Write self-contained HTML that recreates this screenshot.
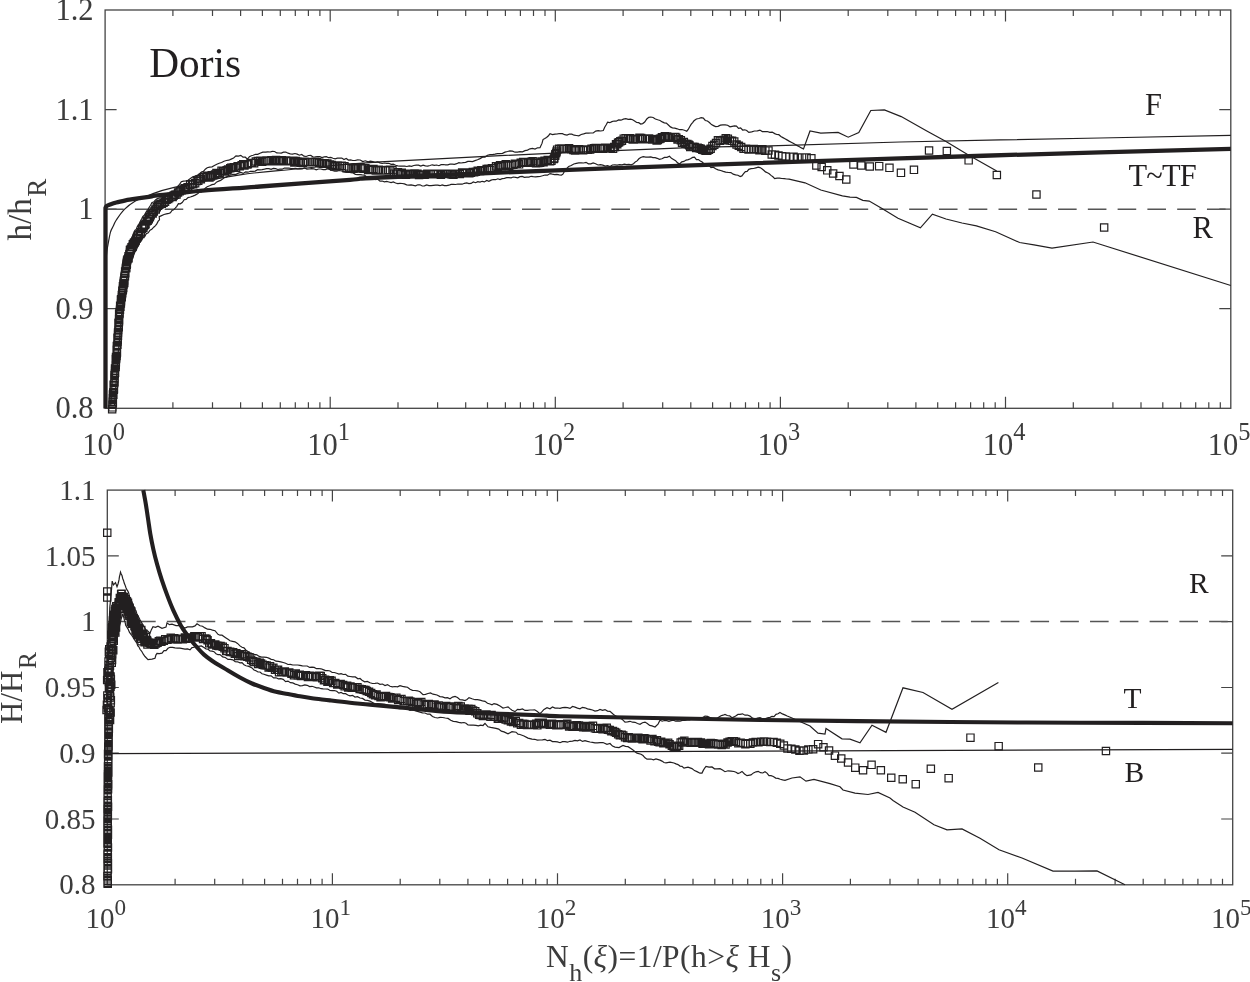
<!DOCTYPE html>
<html><head><meta charset="utf-8"><style>html,body{margin:0;padding:0;background:#fff;overflow:hidden;}svg{display:block;will-change:transform;}</style></head><body>
<svg width="1250" height="982" viewBox="0 0 1250 982" font-family="&quot;Liberation Serif&quot;, serif">
<rect width="1250" height="982" fill="#fff"/>
<rect x="105.1" y="10.0" width="1125.7" height="398.3" fill="none" stroke="#444" stroke-width="1.3"/>
<path d="M172.9 408.3v-6M172.9 10.0v6M212.5 408.3v-6M212.5 10.0v6M240.6 408.3v-6M240.6 10.0v6M262.4 408.3v-6M262.4 10.0v6M280.3 408.3v-6M280.3 10.0v6M295.3 408.3v-6M295.3 10.0v6M308.4 408.3v-6M308.4 10.0v6M319.9 408.3v-6M319.9 10.0v6M330.2 408.3v-11.5M330.2 10.0v11.5M398.0 408.3v-6M398.0 10.0v6M437.6 408.3v-6M437.6 10.0v6M465.7 408.3v-6M465.7 10.0v6M487.5 408.3v-6M487.5 10.0v6M505.4 408.3v-6M505.4 10.0v6M520.4 408.3v-6M520.4 10.0v6M533.5 408.3v-6M533.5 10.0v6M545.0 408.3v-6M545.0 10.0v6M555.3 408.3v-11.5M555.3 10.0v11.5M623.1 408.3v-6M623.1 10.0v6M662.7 408.3v-6M662.7 10.0v6M690.8 408.3v-6M690.8 10.0v6M712.6 408.3v-6M712.6 10.0v6M730.5 408.3v-6M730.5 10.0v6M745.5 408.3v-6M745.5 10.0v6M758.6 408.3v-6M758.6 10.0v6M770.1 408.3v-6M770.1 10.0v6M780.4 408.3v-11.5M780.4 10.0v11.5M848.2 408.3v-6M848.2 10.0v6M887.8 408.3v-6M887.8 10.0v6M915.9 408.3v-6M915.9 10.0v6M937.7 408.3v-6M937.7 10.0v6M955.6 408.3v-6M955.6 10.0v6M970.6 408.3v-6M970.6 10.0v6M983.7 408.3v-6M983.7 10.0v6M995.2 408.3v-6M995.2 10.0v6M1005.5 408.3v-11.5M1005.5 10.0v11.5M1073.3 408.3v-6M1073.3 10.0v6M1112.9 408.3v-6M1112.9 10.0v6M1141.0 408.3v-6M1141.0 10.0v6M1162.8 408.3v-6M1162.8 10.0v6M1180.7 408.3v-6M1180.7 10.0v6M1195.7 408.3v-6M1195.7 10.0v6M1208.8 408.3v-6M1208.8 10.0v6M1220.3 408.3v-6M1220.3 10.0v6M105.1 308.7h11.5M1230.8 308.7h-11.5M105.1 209.2h11.5M1230.8 209.2h-11.5M105.1 109.6h11.5M1230.8 109.6h-11.5" stroke="#444" stroke-width="1.2" fill="none"/>
<text x="93.6" y="418.4" text-anchor="end" font-size="30.5" fill="#3c3c3c">0.8</text>
<text x="93.6" y="318.8" text-anchor="end" font-size="30.5" fill="#3c3c3c">0.9</text>
<text x="93.6" y="219.2" text-anchor="end" font-size="30.5" fill="#3c3c3c">1</text>
<text x="93.6" y="119.6" text-anchor="end" font-size="30.5" fill="#3c3c3c">1.1</text>
<text x="93.6" y="20.1" text-anchor="end" font-size="30.5" fill="#3c3c3c">1.2</text>
<text x="103.6" y="454.8" font-size="30.5" fill="#3c3c3c" text-anchor="middle">10<tspan font-size="24.4" dy="-14.8">0</tspan></text>
<text x="328.7" y="454.8" font-size="30.5" fill="#3c3c3c" text-anchor="middle">10<tspan font-size="24.4" dy="-14.8">1</tspan></text>
<text x="553.8" y="454.8" font-size="30.5" fill="#3c3c3c" text-anchor="middle">10<tspan font-size="24.4" dy="-14.8">2</tspan></text>
<text x="778.9" y="454.8" font-size="30.5" fill="#3c3c3c" text-anchor="middle">10<tspan font-size="24.4" dy="-14.8">3</tspan></text>
<text x="1004.0" y="454.8" font-size="30.5" fill="#3c3c3c" text-anchor="middle">10<tspan font-size="24.4" dy="-14.8">4</tspan></text>
<text x="1229.1" y="454.8" font-size="30.5" fill="#3c3c3c" text-anchor="middle">10<tspan font-size="24.4" dy="-14.8">5</tspan></text>
<path d="M105.1 209.2H1230.8" stroke="#555" stroke-width="1.5" stroke-dasharray="18.6 11.18" fill="none"/>
<path d="M110.8 405 L110.9 402.3 L111.1 399.8 L111.2 398.3 L111.3 396.6 L111.4 393.9 L111.6 391.8 L111.7 388.8 L111.8 387.4 L112 385.9 L112.1 383.6 L112.2 381.2 L112.3 378 L112.5 377 L112.6 374.8 L112.7 371.5 L112.8 370 L113 366.8 L113.1 364.8 L113.2 362.9 L113.4 360.5 L113.5 359.2 L113.6 357.1 L113.7 354.2 L113.9 351.9 L114 349.4 L114.2 347.1 L114.3 345.9 L114.5 343.5 L114.7 340.4 L114.8 338.9 L115 336.5 L115.2 335 L115.3 332.6 L115.5 330.2 L115.7 327.9 L115.8 326.3 L116 324.1 L116.2 320.9 L116.3 318.5 L116.5 317.1 L116.7 313.7 L116.8 312 L117 309.3 L117.2 307.4 L117.5 304.7 L117.7 302.7 L117.9 301.2 L118.2 299.1 L118.4 296.6 L118.6 293.9 L118.8 291.7 L119.1 289 L119.3 286.4 L119.5 284.5 L119.8 282.7 L120 279.3 L120.3 277 L120.7 276 L121 273 L121.3 271.4 L121.7 269.3 L122 267.4 L122.3 264.3 L122.7 262 L123 260.5 L123.8 258.3 L124.6 256 L125.4 254.1 L126.1 251.7 L126.9 250 L127.7 246.9 L128.5 245.4 L129.4 243.7 L130.3 240.7 L131.2 239.2 L132.2 236.8 L133.1 234.9 L134 232.3 L135.1 230.2 L136.2 229.4 L137.2 226.9 L138.3 225.2 L139.4 223.4 L140.5 220.9 L141.7 218.8 L142.9 216.5 L144.1 215.5 L145.3 213.5 L146.5 211.4 L147.9 209.6 L149.2 207.2 L150.6 205.3 L152 202.5 L153.8 202 L155.5 199.9 L157.3 198.6 L159.6 197.9 L161.9 197.7 L164.2 197.3 L166.5 196.6 L168.8 195.6 L170.7 193.8 L172.7 193.3 L174.6 190.8 L176.3 188.8 L177.9 186.1 L179.6 184.3 L181.3 181.7 L183.5 181.2 L185.8 180.8 L188 180.3 L190.4 178.5 L192.8 176.8 L195.2 176.2 L197.6 175 L199.5 174 L201.4 172.1 L203.4 171.4 L205.3 169.2 L207.2 167.7 L209.6 167.1 L212 166.8 L214.4 165.5 L216.8 164.2 L219.2 163.2 L221.6 162.5 L224 161.3 L226.4 160.5 L228.8 160.2 L231.2 159.1 L233.6 158 L236 155.9 L238.4 156.1 L240.8 155.4 L243 157.2 L245.3 157.2 L247.5 159.1 L249.4 156.7 L251.3 155.7 L253.2 155.3 L255.5 154.3 L257.7 154.4 L260 153.3 L262.8 152.1 L265.6 152.1 L267.8 151.9 L270.1 152 L272.3 151.4 L274.6 151.5 L276.8 152.9 L279 153 L281.3 153.1 L283.5 152.2 L285.8 152 L288.1 153.2 L290.3 153.8 L292.6 154.1 L294.9 153.5 L297.2 154.1 L299.4 155.2 L301.7 154.5 L304 156.2 L306.2 156.5 L308.5 155.5 L310.8 155.4 L313 157 L315.2 156.8 L317.5 156.5 L319.8 156.7 L322 157.6 L324.2 156.9 L326.4 156.6 L328.6 157.7 L330.8 157.4 L333 158.2 L335.2 158.9 L337.4 158.1 L339.6 158.1 L341.8 158 L344 159.5 L346.2 158.5 L348.4 160.1 L350.6 159.9 L352.8 160.5 L355 160.5 L357.6 159.8 L360.2 160 L362.8 161.6 L365.4 160.8 L368 161.9 L370.4 161.1 L372.8 161.5 L375.2 162.3 L377.6 161.9 L380 162.9 L382.2 163.5 L384.4 163 L386.7 163.3 L388.9 163.3 L391.1 164.3 L393.3 164.1 L395.6 165.3 L397.8 165.9 L400 166.1 L402.3 166.1 L404.6 166.1 L406.9 166.5 L409.2 165.9 L411.5 166.3 L413.8 165.5 L416.2 165.1 L418.5 165.2 L420.8 166.1 L423.1 165.1 L425.4 165.9 L427.7 166.1 L430 165.5 L432.2 164.8 L434.4 165.4 L436.7 165 L438.9 165.7 L441.1 164.6 L443.3 164.5 L445.6 164.8 L447.8 164.8 L450 164.2 L452.2 164.2 L454.4 164.3 L456.7 163.7 L458.9 162.7 L461.1 163 L463.3 162.6 L465.6 162.4 L467.8 161.4 L470 161.4 L472.5 161.6 L475 160.6 L477.5 159.8 L480 158.6 L482.5 157.2 L485 157.1 L487.5 155.2 L490 154.7 L492.5 154.6 L495 154.2 L497.5 153.7 L500 153.6 L502.5 153.4 L505 152.1 L507.5 151.5 L510 150.8 L512.5 151.1 L515 152.2 L517.5 152.1 L520 151.6 L522.5 151.9 L525 150.6 L527.5 150.1 L530 148.8 L532.5 148.3 L535 149 L537.5 147.8 L540 147.7 L541 145.4 L542 143.4 L543 139.6 L544.8 138.5 L546.5 137.4 L548.2 136.1 L550 133.8 L552.5 134.6 L555 134.1 L557.5 133.9 L560 133.5 L562.4 133.6 L564.7 134.7 L567 135.1 L569.4 134 L571.8 134.2 L574.1 135.2 L576.4 135.5 L578.8 135.8 L581.2 134.5 L583.6 133.9 L586 133.2 L588.4 133.2 L590.8 133 L593.2 133 L595.7 131.1 L598.2 130.6 L600.8 131 L603.3 130.5 L604.7 127.2 L606.2 124.8 L607.6 122.2 L609.8 122.7 L611.9 121.6 L614.1 121 L616.2 121.2 L618.6 119.9 L621 120.2 L623.4 119.1 L625.8 118.7 L628.2 119.3 L630.6 119.2 L632.6 119.8 L634.6 120.9 L636.7 122.5 L638.7 122.7 L640.7 124.1 L642.7 123.6 L644.7 122.1 L646.8 119 L648.8 117.4 L650.8 117 L653.1 117.5 L655.4 119 L657.7 119.8 L660 120.5 L662.3 121.9 L664.3 122.9 L666.3 123.1 L668.4 125 L670.4 126.9 L672.4 127.8 L674.8 128.2 L677.2 128.8 L679.6 129.7 L682 129.5 L684.4 130.2 L686.8 131.2 L688.2 129.5 L689.7 126.7 L691.1 124.4 L692.6 122.6 L694 120.8 L696.4 119 L698.8 118.5 L701.2 117.6 L703.3 118.1 L705.3 120.5 L707.4 121 L709.4 122.5 L711.5 124.6 L713.5 125.6 L715.6 126.6 L718 126.3 L720.4 125.2 L722.8 124.9 L725.2 124.8 L727.6 125.2 L730 126.8 L732.2 126.3 L734.4 125.8 L736.5 126.1 L738.5 128.3 L740.6 127.8 L742.6 130 L744.7 129.8 L746.7 130.5 L748.8 132.4 L751.7 131.9 L754.5 131 L757.4 130.9 L759.9 130.1 L762.3 131.6 L764.8 131.6 L767.3 131.5 L769.8 132.4 L772.2 132.1 L774.7 133.6 L776.8 134.5 L778.8 134.7 L780.9 136.5 L782.9 137.6 L785 138.8 L787 139.9 L789.1 141.1 L791.2 142.2 L793.2 143.3 L795.3 144.5 L797.3 145.6 L799.4 146.7 L801.4 147.9 L803.5 149 L810 131 L820.8 133.1 L838.1 132.4 L848.2 137.2 L858.8 132.6 L870.8 110.5 L884.4 109.9 L901.2 116.6 L926.8 131 L946 141.4 L968.4 155 L996.7 171" stroke="#221f20" stroke-width="1.2" fill="none"/>
<path d="M114.5 405 L114.7 402.2 L114.8 401 L115 398 L115.1 396.3 L115.3 393.2 L115.5 392.5 L115.6 390.2 L115.8 386.7 L115.9 385.9 L116.1 382.4 L116.3 380.5 L116.4 378.8 L116.6 377.1 L116.7 374.8 L116.9 371.2 L117.1 369.8 L117.2 367.7 L117.4 365.4 L117.5 363.6 L117.7 360.5 L117.9 359.2 L118 355.8 L118.2 353.8 L118.3 351.6 L118.5 349.7 L118.7 348.1 L118.9 345.5 L119.1 343.8 L119.3 340.8 L119.5 339.3 L119.7 337 L119.9 334.2 L120.1 332 L120.2 330.8 L120.4 328 L120.6 326.3 L120.8 323.8 L121 321.6 L121.2 318.7 L121.4 316.6 L121.6 314.3 L121.8 313 L122 309.5 L122.3 308.4 L122.7 305.3 L123 303 L123.4 300.7 L123.7 298.3 L124.1 296.1 L124.4 293.1 L124.8 290.9 L125.1 289.6 L125.5 287.1 L125.8 283.9 L126.2 282 L126.5 279.6 L127 277 L127.5 275.5 L128 273 L128.5 270.1 L129 268.7 L129.5 266.8 L130 263.4 L131 261.2 L132 259.4 L133 256.8 L134 254.4 L135 251.9 L136 250.6 L137 248.2 L138 246.2 L139 243.9 L140 242 L141.5 240.6 L143 237.5 L144.5 236.7 L146.3 233.7 L148.2 232.8 L150 230.2 L151.8 229.3 L153.7 227.2 L155.5 225.6 L156.8 223.9 L158.2 221.2 L159.5 219.8 L159.2 216.7 L161.6 215.6 L164 214.5 L166.4 213.9 L168.8 213.3 L170.4 212.8 L172 210.4 L173.6 209.8 L175.2 208.1 L176.8 206.3 L178.4 203.7 L180.3 203.8 L182.2 202.5 L184.2 199.7 L186.1 199.4 L188 197.6 L190.4 197 L192.8 196.1 L195.2 195.1 L197.6 193.7 L199.5 192 L201.4 191.8 L203.4 190.6 L205.3 188.1 L207.2 186.7 L209.6 185.8 L212 184.6 L214.4 184.2 L216.8 181.9 L218.7 181.1 L220.6 180.4 L222.6 179 L224.5 177.6 L226.4 177.1 L228.8 175.4 L231.2 174.8 L233.6 174.4 L236 174.3 L238.4 173.1 L240.8 172.5 L243.2 173.4 L245.6 171.8 L248 172.2 L250.4 171.3 L252.8 171.4 L255.2 171.1 L257.6 169.7 L260 169.8 L262.2 169.6 L264.4 169.2 L266.7 168.7 L268.9 168.6 L271.1 169.4 L273.3 168.4 L275.6 168.6 L277.8 169.5 L280 169.2 L282.2 169.2 L284.4 168 L286.7 168.2 L288.9 168.1 L291.1 168.5 L293.3 168.5 L295.6 168.3 L297.8 168.8 L300 168.6 L302.3 168.8 L304.6 168 L306.9 169.1 L309.2 169 L311.5 168.6 L313.8 168.8 L316.2 169.9 L318.5 169 L320.8 169 L323.1 169.6 L325.4 169.7 L327.7 168.8 L330 169.8 L332.3 170.5 L334.6 171.1 L336.9 171.1 L339.2 170.5 L341.5 171 L343.8 171.6 L346.2 172.3 L348.5 171.8 L350.8 172.6 L353.1 172.9 L355.4 174.3 L357.7 174.6 L360 174.6 L362.2 174.9 L364.4 175.1 L366.7 177 L368.9 177.7 L371.1 178.3 L373.3 177.7 L375.6 179.5 L377.8 179.2 L380 181.1 L382.2 181 L384.4 181.9 L386.7 181.4 L388.9 182 L391.1 182.6 L393.3 182 L395.6 183 L397.8 183.6 L400 183.4 L402.2 183.5 L404.4 183.9 L406.7 184.8 L408.9 185.2 L411.1 184.9 L413.3 185.3 L415.6 185.9 L417.8 184.8 L420 184.8 L422.2 186 L424.4 185.8 L426.7 185 L428.9 185.6 L431.1 185.6 L433.3 185.3 L435.6 185.2 L437.8 185.1 L440 185.7 L442.2 184.9 L444.4 185.6 L446.7 185.7 L448.9 185.2 L451.1 184.4 L453.3 184.4 L455.6 184.5 L457.8 184 L460 184.2 L462.2 184.2 L464.4 183.3 L466.7 182.9 L468.9 183.6 L471.1 183.4 L473.3 182 L475.6 182.7 L477.8 181.6 L480 182.1 L482.2 181.3 L484.4 181.9 L486.7 180.4 L488.9 181.3 L491.1 180.1 L493.3 179.5 L495.6 179.7 L497.8 178.8 L500 179.5 L502.2 178.6 L504.4 178.3 L506.7 177.7 L508.9 177.6 L511.1 177.9 L513.3 177 L515.6 177.4 L517.8 177.8 L520 176.7 L522.2 176.4 L524.4 177.4 L526.7 177.2 L528.9 177.1 L531.1 176.3 L533.3 176.7 L535.6 176.9 L537.8 176.7 L540 176.5 L542.5 175.8 L545 175 L547.5 175.2 L550 173.6 L552.3 174.2 L554.6 174.6 L556.9 174.3 L559.2 174.8 L561.5 175.1 L562.9 174.2 L564.4 171.4 L565.8 170.4 L567.3 167.8 L568.7 166.5 L571.2 165.5 L573.8 164 L576.3 163.4 L578.8 162.9 L581.2 162.9 L583.6 163 L586 162.3 L588.4 163.8 L590.8 163.9 L593.2 162.9 L595.6 163.7 L598 165 L600.4 164.7 L602.8 165.2 L605.2 166.1 L607.6 165.7 L610 166.5 L612.4 165 L614.8 164.8 L617.2 165.1 L619.6 164.6 L622 164.8 L624.3 164.1 L626.6 164.7 L628.9 164.4 L631.2 164.8 L633.5 163.7 L635.3 161.9 L637.1 160.9 L638.9 158.8 L640.7 157.5 L643.2 156.6 L645.8 157.1 L648.3 157.1 L650.8 156.9 L652.9 157.6 L655.1 157.7 L657.2 158.3 L659.4 159.4 L661.9 158.8 L664.5 157.4 L667 157.3 L669.5 156.3 L671.5 158.3 L673.5 159.5 L675.6 160.7 L677.6 162.9 L679.6 164 L681.8 161.8 L683.9 161.4 L686.1 160.1 L688.3 159.6 L690.4 158.7 L692.6 157.4 L694.5 157.2 L696.4 159.7 L698.4 159.6 L700.3 161 L702.2 162.1 L704.1 163.9 L706.4 164.1 L708.7 165.2 L711 167.6 L713.3 167.2 L715.6 168.8 L718.1 169.9 L720.7 170.5 L723.2 171.4 L725.7 172.1 L728.6 172.5 L730.9 172.6 L733.2 174.2 L735.6 174.8 L737.9 175.2 L740.2 176.6 L741.9 175.9 L743.6 173.7 L745.4 171.6 L747.1 171.4 L748.8 169.3 L751.1 168.7 L753.5 168.5 L755.9 167.8 L758.2 167.1 L760 167.6 L761.9 168.7 L763.7 170.2 L765.5 171.9 L767.4 172.8 L769.2 173.8 L771 175.4 L772.9 176.8 L774.7 178.6 L777.1 178.2 L779.5 178.1 L781.9 178.5 L784.3 178.7 L786.7 179 L789.1 179.2 L805 182.8 L820.8 190 L842.4 195.8 L850 197.1 L856.4 197.4 L862.8 200.3 L869.2 201.1 L882 208.6 L898 218.2 L920.4 227.8 L932.4 214.2 L946 219 L962 223 L976.4 225.9 L995.6 231.8 L1019.6 242.5 L1034 244.9 L1052 248.1 L1093 242 L1230.8 285.5" stroke="#221f20" stroke-width="1.2" fill="none"/>
<path d="M105.6 268.0C105.7 266.0 106.1 259.3 106.4 256.0C106.7 252.7 106.7 251.9 107.4 248.0C108.1 244.1 109.4 236.0 110.4 232.3C111.4 228.7 112.3 228.2 113.3 226.1C114.3 224.0 114.4 222.8 116.3 220.0C118.2 217.2 121.3 212.5 124.4 209.4C127.5 206.3 130.9 203.7 135.0 201.3C139.1 198.9 142.4 197.5 148.9 195.2C155.4 192.9 159.0 190.8 174.2 187.4C189.4 184.0 219.5 177.9 240.0 174.8C260.5 171.7 273.7 171.2 297.0 169.0C320.3 166.8 336.2 164.5 380.0 161.8C423.8 159.1 509.6 155.2 560.0 152.9C610.4 150.6 647.5 149.0 682.5 147.8C717.5 146.6 733.8 146.8 770.0 145.8C806.2 144.8 845.0 143.3 900.0 142.0C955.0 140.7 1044.9 139.1 1100.0 138.0C1155.1 136.9 1209.0 135.8 1230.8 135.4" stroke="#221f20" stroke-width="1.2" fill="none"/>
<path d="M108.5 405.5h7.3v7.3h-7.3zM108.8 403.7h7.3v7.3h-7.3zM108.7 401.1h7.3v7.3h-7.3zM109.0 400.4h7.3v7.3h-7.3zM109.2 398.9h7.3v7.3h-7.3zM108.9 398.1h7.3v7.3h-7.3zM109.2 395.8h7.3v7.3h-7.3zM109.1 394.6h7.3v7.3h-7.3zM109.1 394.6h7.3v7.3h-7.3zM109.3 390.9h7.3v7.3h-7.3zM109.7 391.0h7.3v7.3h-7.3zM109.7 388.5h7.3v7.3h-7.3zM109.6 389.3h7.3v7.3h-7.3zM110.2 386.0h7.3v7.3h-7.3zM110.3 385.2h7.3v7.3h-7.3zM110.2 384.0h7.3v7.3h-7.3zM110.0 381.2h7.3v7.3h-7.3zM110.3 381.6h7.3v7.3h-7.3zM110.7 379.3h7.3v7.3h-7.3zM110.9 378.2h7.3v7.3h-7.3zM111.0 374.8h7.3v7.3h-7.3zM110.7 374.2h7.3v7.3h-7.3zM110.8 371.7h7.3v7.3h-7.3zM111.1 370.2h7.3v7.3h-7.3zM111.4 369.2h7.3v7.3h-7.3zM111.3 367.1h7.3v7.3h-7.3zM111.4 364.9h7.3v7.3h-7.3zM112.0 363.3h7.3v7.3h-7.3zM112.0 361.8h7.3v7.3h-7.3zM112.1 361.0h7.3v7.3h-7.3zM112.2 358.6h7.3v7.3h-7.3zM112.1 358.7h7.3v7.3h-7.3zM112.1 355.4h7.3v7.3h-7.3zM112.6 354.2h7.3v7.3h-7.3zM112.5 355.3h7.3v7.3h-7.3zM112.4 353.3h7.3v7.3h-7.3zM113.0 352.3h7.3v7.3h-7.3zM113.1 350.1h7.3v7.3h-7.3zM113.3 348.8h7.3v7.3h-7.3zM113.0 346.1h7.3v7.3h-7.3zM113.2 345.8h7.3v7.3h-7.3zM113.3 344.7h7.3v7.3h-7.3zM113.2 342.4h7.3v7.3h-7.3zM113.7 341.1h7.3v7.3h-7.3zM113.8 341.0h7.3v7.3h-7.3zM114.0 338.0h7.3v7.3h-7.3zM114.1 336.4h7.3v7.3h-7.3zM113.8 334.2h7.3v7.3h-7.3zM114.3 332.1h7.3v7.3h-7.3zM114.3 331.2h7.3v7.3h-7.3zM114.4 329.4h7.3v7.3h-7.3zM114.5 328.7h7.3v7.3h-7.3zM114.7 326.3h7.3v7.3h-7.3zM115.1 323.6h7.3v7.3h-7.3zM114.8 322.3h7.3v7.3h-7.3zM115.0 321.3h7.3v7.3h-7.3zM114.8 319.5h7.3v7.3h-7.3zM115.0 319.0h7.3v7.3h-7.3zM115.3 318.4h7.3v7.3h-7.3zM115.5 316.6h7.3v7.3h-7.3zM115.4 315.3h7.3v7.3h-7.3zM115.5 312.7h7.3v7.3h-7.3zM115.6 311.1h7.3v7.3h-7.3zM115.5 310.4h7.3v7.3h-7.3zM116.0 309.9h7.3v7.3h-7.3zM115.8 308.4h7.3v7.3h-7.3zM116.3 306.2h7.3v7.3h-7.3zM116.8 303.1h7.3v7.3h-7.3zM116.5 302.1h7.3v7.3h-7.3zM117.2 299.8h7.3v7.3h-7.3zM117.4 297.6h7.3v7.3h-7.3zM117.3 296.1h7.3v7.3h-7.3zM117.5 295.5h7.3v7.3h-7.3zM118.1 293.6h7.3v7.3h-7.3zM118.2 291.4h7.3v7.3h-7.3zM118.6 289.7h7.3v7.3h-7.3zM118.7 287.3h7.3v7.3h-7.3zM119.1 286.5h7.3v7.3h-7.3zM119.3 285.6h7.3v7.3h-7.3zM119.6 284.2h7.3v7.3h-7.3zM119.3 282.6h7.3v7.3h-7.3zM120.0 280.2h7.3v7.3h-7.3zM120.0 280.8h7.3v7.3h-7.3zM120.6 279.4h7.3v7.3h-7.3zM120.7 277.3h7.3v7.3h-7.3zM120.8 276.5h7.3v7.3h-7.3zM120.8 274.2h7.3v7.3h-7.3zM121.3 272.5h7.3v7.3h-7.3zM121.7 269.7h7.3v7.3h-7.3zM121.5 267.9h7.3v7.3h-7.3zM121.7 267.8h7.3v7.3h-7.3zM122.5 264.7h7.3v7.3h-7.3zM122.7 263.8h7.3v7.3h-7.3zM123.1 261.1h7.3v7.3h-7.3zM123.1 260.2h7.3v7.3h-7.3zM123.2 258.6h7.3v7.3h-7.3zM123.2 260.0h7.3v7.3h-7.3zM123.4 257.0h7.3v7.3h-7.3zM123.8 255.9h7.3v7.3h-7.3zM124.6 254.9h7.3v7.3h-7.3zM124.9 254.4h7.3v7.3h-7.3zM124.9 252.5h7.3v7.3h-7.3zM125.7 250.7h7.3v7.3h-7.3zM126.1 249.2h7.3v7.3h-7.3zM126.3 246.4h7.3v7.3h-7.3zM127.1 245.3h7.3v7.3h-7.3zM127.9 243.5h7.3v7.3h-7.3zM128.7 243.2h7.3v7.3h-7.3zM129.2 240.5h7.3v7.3h-7.3zM130.2 239.3h7.3v7.3h-7.3zM131.0 238.5h7.3v7.3h-7.3zM131.9 237.4h7.3v7.3h-7.3zM132.8 235.1h7.3v7.3h-7.3zM133.3 234.0h7.3v7.3h-7.3zM134.3 232.0h7.3v7.3h-7.3zM135.1 231.1h7.3v7.3h-7.3zM136.6 230.4h7.3v7.3h-7.3zM137.4 228.5h7.3v7.3h-7.3zM138.4 225.1h7.3v7.3h-7.3zM139.7 224.0h7.3v7.3h-7.3zM140.2 222.4h7.3v7.3h-7.3zM141.1 221.3h7.3v7.3h-7.3zM141.9 220.7h7.3v7.3h-7.3zM143.0 217.6h7.3v7.3h-7.3zM144.0 217.1h7.3v7.3h-7.3zM145.1 215.6h7.3v7.3h-7.3zM145.5 213.4h7.3v7.3h-7.3zM146.2 213.7h7.3v7.3h-7.3zM147.0 211.7h7.3v7.3h-7.3zM148.3 209.7h7.3v7.3h-7.3zM149.0 209.8h7.3v7.3h-7.3zM150.2 207.9h7.3v7.3h-7.3zM151.7 205.9h7.3v7.3h-7.3zM152.1 205.8h7.3v7.3h-7.3zM153.1 203.7h7.3v7.3h-7.3zM154.4 202.2h7.3v7.3h-7.3zM155.7 201.2h7.3v7.3h-7.3zM156.8 200.2h7.3v7.3h-7.3zM158.2 200.0h7.3v7.3h-7.3zM159.9 199.1h7.3v7.3h-7.3zM161.4 198.1h7.3v7.3h-7.3zM162.9 196.0h7.3v7.3h-7.3zM164.5 195.4h7.3v7.3h-7.3zM165.6 194.4h7.3v7.3h-7.3zM167.7 193.3h7.3v7.3h-7.3zM169.0 193.3h7.3v7.3h-7.3zM170.1 191.8h7.3v7.3h-7.3zM171.4 191.2h7.3v7.3h-7.3zM172.9 190.9h7.3v7.3h-7.3zM174.4 188.8h7.3v7.3h-7.3zM176.1 187.5h7.3v7.3h-7.3zM177.9 186.5h7.3v7.3h-7.3zM179.7 186.2h7.3v7.3h-7.3zM181.0 184.6h7.3v7.3h-7.3zM182.2 185.5h7.3v7.3h-7.3zM183.7 183.9h7.3v7.3h-7.3zM184.6 183.5h7.3v7.3h-7.3zM186.5 181.2h7.3v7.3h-7.3zM188.4 180.6h7.3v7.3h-7.3zM189.6 180.6h7.3v7.3h-7.3zM191.5 179.5h7.3v7.3h-7.3zM193.2 177.3h7.3v7.3h-7.3zM194.6 177.2h7.3v7.3h-7.3zM195.9 175.7h7.3v7.3h-7.3zM197.2 175.7h7.3v7.3h-7.3zM199.2 173.9h7.3v7.3h-7.3zM200.5 173.0h7.3v7.3h-7.3zM202.3 173.5h7.3v7.3h-7.3zM203.7 172.1h7.3v7.3h-7.3zM205.8 173.9h7.3v7.3h-7.3zM207.3 172.9h7.3v7.3h-7.3zM208.1 171.6h7.3v7.3h-7.3zM209.5 171.5h7.3v7.3h-7.3zM211.4 170.9h7.3v7.3h-7.3zM212.8 169.3h7.3v7.3h-7.3zM214.2 169.9h7.3v7.3h-7.3zM216.0 169.4h7.3v7.3h-7.3zM217.9 167.0h7.3v7.3h-7.3zM219.4 167.8h7.3v7.3h-7.3zM221.1 167.6h7.3v7.3h-7.3zM223.0 166.7h7.3v7.3h-7.3zM224.4 165.9h7.3v7.3h-7.3zM226.6 164.6h7.3v7.3h-7.3zM227.6 164.1h7.3v7.3h-7.3zM229.2 163.9h7.3v7.3h-7.3zM230.6 163.6h7.3v7.3h-7.3zM232.4 164.2h7.3v7.3h-7.3zM234.0 162.7h7.3v7.3h-7.3zM236.1 162.7h7.3v7.3h-7.3zM238.0 161.7h7.3v7.3h-7.3zM239.6 160.6h7.3v7.3h-7.3zM240.8 161.8h7.3v7.3h-7.3zM243.2 160.9h7.3v7.3h-7.3zM244.2 160.5h7.3v7.3h-7.3zM247.0 159.3h7.3v7.3h-7.3zM248.3 159.4h7.3v7.3h-7.3zM250.5 159.5h7.3v7.3h-7.3zM252.2 157.9h7.3v7.3h-7.3zM254.3 157.4h7.3v7.3h-7.3zM256.7 157.0h7.3v7.3h-7.3zM258.5 158.1h7.3v7.3h-7.3zM260.6 157.3h7.3v7.3h-7.3zM262.9 156.9h7.3v7.3h-7.3zM264.2 157.5h7.3v7.3h-7.3zM266.1 157.1h7.3v7.3h-7.3zM267.8 156.6h7.3v7.3h-7.3zM269.5 157.5h7.3v7.3h-7.3zM271.3 157.1h7.3v7.3h-7.3zM272.4 156.4h7.3v7.3h-7.3zM274.7 157.4h7.3v7.3h-7.3zM276.3 157.7h7.3v7.3h-7.3zM278.2 156.5h7.3v7.3h-7.3zM280.2 157.5h7.3v7.3h-7.3zM282.4 156.8h7.3v7.3h-7.3zM284.5 157.6h7.3v7.3h-7.3zM286.2 157.4h7.3v7.3h-7.3zM287.6 157.7h7.3v7.3h-7.3zM289.7 157.1h7.3v7.3h-7.3zM290.7 158.8h7.3v7.3h-7.3zM292.1 157.3h7.3v7.3h-7.3zM293.7 157.9h7.3v7.3h-7.3zM295.7 158.4h7.3v7.3h-7.3zM297.1 159.2h7.3v7.3h-7.3zM299.2 159.4h7.3v7.3h-7.3zM300.9 158.1h7.3v7.3h-7.3zM302.6 158.4h7.3v7.3h-7.3zM304.5 158.6h7.3v7.3h-7.3zM306.8 158.5h7.3v7.3h-7.3zM308.5 158.4h7.3v7.3h-7.3zM310.1 158.3h7.3v7.3h-7.3zM311.7 158.0h7.3v7.3h-7.3zM313.3 158.6h7.3v7.3h-7.3zM315.6 159.1h7.3v7.3h-7.3zM317.8 159.6h7.3v7.3h-7.3zM319.2 160.1h7.3v7.3h-7.3zM320.9 159.6h7.3v7.3h-7.3zM322.4 160.1h7.3v7.3h-7.3zM323.7 159.9h7.3v7.3h-7.3zM326.3 160.9h7.3v7.3h-7.3zM328.2 161.4h7.3v7.3h-7.3zM330.6 162.8h7.3v7.3h-7.3zM332.0 162.5h7.3v7.3h-7.3zM333.9 161.8h7.3v7.3h-7.3zM336.4 162.2h7.3v7.3h-7.3zM338.1 162.2h7.3v7.3h-7.3zM340.8 162.7h7.3v7.3h-7.3zM342.9 164.5h7.3v7.3h-7.3zM345.5 164.0h7.3v7.3h-7.3zM347.8 165.0h7.3v7.3h-7.3zM349.7 165.0h7.3v7.3h-7.3zM351.6 163.9h7.3v7.3h-7.3zM353.0 163.5h7.3v7.3h-7.3zM354.4 163.8h7.3v7.3h-7.3zM356.8 163.6h7.3v7.3h-7.3zM358.2 164.8h7.3v7.3h-7.3zM359.9 165.0h7.3v7.3h-7.3zM361.7 164.6h7.3v7.3h-7.3zM364.5 166.3h7.3v7.3h-7.3zM366.2 166.4h7.3v7.3h-7.3zM368.2 165.7h7.3v7.3h-7.3zM369.8 165.4h7.3v7.3h-7.3zM372.1 166.9h7.3v7.3h-7.3zM373.8 166.8h7.3v7.3h-7.3zM375.4 166.1h7.3v7.3h-7.3zM377.2 166.9h7.3v7.3h-7.3zM379.1 166.9h7.3v7.3h-7.3zM381.5 166.7h7.3v7.3h-7.3zM382.8 166.9h7.3v7.3h-7.3zM384.7 166.3h7.3v7.3h-7.3zM386.5 166.2h7.3v7.3h-7.3zM388.8 166.6h7.3v7.3h-7.3zM390.4 170.0h7.3v7.3h-7.3zM392.7 170.2h7.3v7.3h-7.3zM394.3 168.7h7.3v7.3h-7.3zM396.5 170.4h7.3v7.3h-7.3zM398.1 169.2h7.3v7.3h-7.3zM399.9 170.9h7.3v7.3h-7.3zM402.3 171.2h7.3v7.3h-7.3zM404.2 170.3h7.3v7.3h-7.3zM406.2 170.0h7.3v7.3h-7.3zM407.1 170.7h7.3v7.3h-7.3zM408.8 170.2h7.3v7.3h-7.3zM410.9 169.8h7.3v7.3h-7.3zM412.2 170.6h7.3v7.3h-7.3zM413.8 170.2h7.3v7.3h-7.3zM415.4 171.4h7.3v7.3h-7.3zM417.3 170.9h7.3v7.3h-7.3zM419.6 171.0h7.3v7.3h-7.3zM421.0 171.0h7.3v7.3h-7.3zM423.7 170.2h7.3v7.3h-7.3zM425.7 170.2h7.3v7.3h-7.3zM427.3 170.5h7.3v7.3h-7.3zM429.5 170.6h7.3v7.3h-7.3zM430.9 170.6h7.3v7.3h-7.3zM432.9 170.0h7.3v7.3h-7.3zM434.6 170.6h7.3v7.3h-7.3zM437.2 171.1h7.3v7.3h-7.3zM438.7 170.3h7.3v7.3h-7.3zM440.9 170.2h7.3v7.3h-7.3zM443.1 170.0h7.3v7.3h-7.3zM444.4 170.3h7.3v7.3h-7.3zM446.6 170.2h7.3v7.3h-7.3zM448.0 170.8h7.3v7.3h-7.3zM449.8 171.2h7.3v7.3h-7.3zM452.2 170.0h7.3v7.3h-7.3zM453.8 170.4h7.3v7.3h-7.3zM456.2 170.4h7.3v7.3h-7.3zM458.5 168.8h7.3v7.3h-7.3zM459.7 169.6h7.3v7.3h-7.3zM461.4 168.9h7.3v7.3h-7.3zM463.2 169.1h7.3v7.3h-7.3zM465.7 169.7h7.3v7.3h-7.3zM467.3 169.2h7.3v7.3h-7.3zM469.2 168.3h7.3v7.3h-7.3zM470.5 168.7h7.3v7.3h-7.3zM472.2 168.1h7.3v7.3h-7.3zM474.1 167.2h7.3v7.3h-7.3zM476.4 167.4h7.3v7.3h-7.3zM477.7 166.6h7.3v7.3h-7.3zM479.0 166.9h7.3v7.3h-7.3zM480.8 166.6h7.3v7.3h-7.3zM483.0 165.4h7.3v7.3h-7.3zM484.8 165.2h7.3v7.3h-7.3zM486.6 166.5h7.3v7.3h-7.3zM488.3 164.5h7.3v7.3h-7.3zM490.4 164.7h7.3v7.3h-7.3zM492.4 162.7h7.3v7.3h-7.3zM494.2 163.4h7.3v7.3h-7.3zM496.4 161.6h7.3v7.3h-7.3zM498.1 162.7h7.3v7.3h-7.3zM499.9 161.8h7.3v7.3h-7.3zM502.1 160.7h7.3v7.3h-7.3zM504.1 161.3h7.3v7.3h-7.3zM505.6 162.1h7.3v7.3h-7.3zM507.6 161.3h7.3v7.3h-7.3zM509.7 161.2h7.3v7.3h-7.3zM511.3 160.0h7.3v7.3h-7.3zM513.1 160.4h7.3v7.3h-7.3zM515.4 160.7h7.3v7.3h-7.3zM517.1 159.1h7.3v7.3h-7.3zM519.5 158.3h7.3v7.3h-7.3zM521.8 158.3h7.3v7.3h-7.3zM524.6 159.2h7.3v7.3h-7.3zM526.0 158.3h7.3v7.3h-7.3zM527.5 158.0h7.3v7.3h-7.3zM529.0 157.5h7.3v7.3h-7.3zM530.7 159.2h7.3v7.3h-7.3zM532.4 159.5h7.3v7.3h-7.3zM534.6 159.3h7.3v7.3h-7.3zM536.5 159.0h7.3v7.3h-7.3zM537.8 157.9h7.3v7.3h-7.3zM539.9 158.6h7.3v7.3h-7.3zM540.9 157.1h7.3v7.3h-7.3zM542.5 157.0h7.3v7.3h-7.3zM544.1 156.4h7.3v7.3h-7.3zM546.4 157.6h7.3v7.3h-7.3zM547.8 157.2h7.3v7.3h-7.3zM550.1 155.4h7.3v7.3h-7.3zM550.7 154.5h7.3v7.3h-7.3zM551.5 152.0h7.3v7.3h-7.3zM551.7 150.6h7.3v7.3h-7.3zM552.5 149.3h7.3v7.3h-7.3zM553.0 147.9h7.3v7.3h-7.3zM553.5 146.0h7.3v7.3h-7.3zM555.5 145.2h7.3v7.3h-7.3zM557.8 144.9h7.3v7.3h-7.3zM559.4 145.2h7.3v7.3h-7.3zM561.0 145.4h7.3v7.3h-7.3zM563.3 145.2h7.3v7.3h-7.3zM565.4 144.5h7.3v7.3h-7.3zM567.6 145.6h7.3v7.3h-7.3zM569.7 146.4h7.3v7.3h-7.3zM571.4 146.8h7.3v7.3h-7.3zM573.0 146.5h7.3v7.3h-7.3zM575.4 145.6h7.3v7.3h-7.3zM577.1 146.5h7.3v7.3h-7.3zM579.5 146.6h7.3v7.3h-7.3zM582.1 145.9h7.3v7.3h-7.3zM584.3 146.1h7.3v7.3h-7.3zM586.5 145.8h7.3v7.3h-7.3zM587.9 145.2h7.3v7.3h-7.3zM590.4 144.7h7.3v7.3h-7.3zM592.1 144.3h7.3v7.3h-7.3zM593.6 145.0h7.3v7.3h-7.3zM595.9 144.9h7.3v7.3h-7.3zM597.3 144.5h7.3v7.3h-7.3zM599.0 145.1h7.3v7.3h-7.3zM601.1 144.1h7.3v7.3h-7.3zM603.6 144.7h7.3v7.3h-7.3zM606.0 144.0h7.3v7.3h-7.3zM607.4 144.8h7.3v7.3h-7.3zM609.4 145.2h7.3v7.3h-7.3zM610.6 143.3h7.3v7.3h-7.3zM611.3 143.3h7.3v7.3h-7.3zM612.4 140.7h7.3v7.3h-7.3zM613.6 140.5h7.3v7.3h-7.3zM614.4 139.0h7.3v7.3h-7.3zM615.4 138.6h7.3v7.3h-7.3zM616.7 137.5h7.3v7.3h-7.3zM618.3 137.1h7.3v7.3h-7.3zM620.1 135.0h7.3v7.3h-7.3zM622.0 134.5h7.3v7.3h-7.3zM624.3 135.2h7.3v7.3h-7.3zM626.2 134.7h7.3v7.3h-7.3zM629.1 135.8h7.3v7.3h-7.3zM630.1 135.8h7.3v7.3h-7.3zM632.2 135.2h7.3v7.3h-7.3zM634.2 135.6h7.3v7.3h-7.3zM635.9 134.1h7.3v7.3h-7.3zM637.5 134.3h7.3v7.3h-7.3zM638.7 135.5h7.3v7.3h-7.3zM641.6 135.5h7.3v7.3h-7.3zM643.4 135.5h7.3v7.3h-7.3zM645.2 134.8h7.3v7.3h-7.3zM646.6 135.3h7.3v7.3h-7.3zM648.6 135.9h7.3v7.3h-7.3zM649.9 135.9h7.3v7.3h-7.3zM651.6 135.7h7.3v7.3h-7.3zM653.0 136.9h7.3v7.3h-7.3zM654.2 136.4h7.3v7.3h-7.3zM655.7 135.4h7.3v7.3h-7.3zM656.9 134.8h7.3v7.3h-7.3zM658.3 133.7h7.3v7.3h-7.3zM659.8 134.0h7.3v7.3h-7.3zM661.2 132.5h7.3v7.3h-7.3zM663.5 132.8h7.3v7.3h-7.3zM665.4 133.3h7.3v7.3h-7.3zM667.0 134.2h7.3v7.3h-7.3zM669.4 133.4h7.3v7.3h-7.3zM671.6 133.3h7.3v7.3h-7.3zM672.7 134.0h7.3v7.3h-7.3zM673.9 135.8h7.3v7.3h-7.3zM675.2 135.6h7.3v7.3h-7.3zM677.2 136.6h7.3v7.3h-7.3zM678.4 139.1h7.3v7.3h-7.3zM680.2 138.4h7.3v7.3h-7.3zM681.7 140.0h7.3v7.3h-7.3zM683.7 140.4h7.3v7.3h-7.3zM685.2 141.2h7.3v7.3h-7.3zM685.9 141.8h7.3v7.3h-7.3zM764.8 146.8h7.3v7.3h-7.3zM761.7 147.0h7.3v7.3h-7.3zM758.7 145.7h7.3v7.3h-7.3zM755.8 146.6h7.3v7.3h-7.3zM753.0 145.9h7.3v7.3h-7.3zM750.2 145.3h7.3v7.3h-7.3zM747.5 145.4h7.3v7.3h-7.3zM744.9 145.9h7.3v7.3h-7.3zM742.4 145.2h7.3v7.3h-7.3zM739.9 145.0h7.3v7.3h-7.3zM737.5 143.3h7.3v7.3h-7.3zM735.2 142.1h7.3v7.3h-7.3zM732.9 140.9h7.3v7.3h-7.3zM730.6 137.9h7.3v7.3h-7.3zM728.4 137.2h7.3v7.3h-7.3zM726.3 136.8h7.3v7.3h-7.3zM724.2 135.2h7.3v7.3h-7.3zM722.1 134.7h7.3v7.3h-7.3zM720.1 136.4h7.3v7.3h-7.3zM718.1 136.7h7.3v7.3h-7.3zM716.2 137.2h7.3v7.3h-7.3zM714.3 136.7h7.3v7.3h-7.3zM712.4 139.4h7.3v7.3h-7.3zM710.6 141.2h7.3v7.3h-7.3zM708.8 142.4h7.3v7.3h-7.3zM707.0 145.0h7.3v7.3h-7.3zM705.3 146.2h7.3v7.3h-7.3zM703.6 147.1h7.3v7.3h-7.3zM701.9 147.1h7.3v7.3h-7.3zM700.3 146.3h7.3v7.3h-7.3zM698.7 146.2h7.3v7.3h-7.3zM697.1 145.1h7.3v7.3h-7.3zM695.5 144.6h7.3v7.3h-7.3zM694.0 144.2h7.3v7.3h-7.3zM692.5 144.4h7.3v7.3h-7.3zM691.0 143.4h7.3v7.3h-7.3zM689.5 143.2h7.3v7.3h-7.3zM688.1 143.4h7.3v7.3h-7.3zM686.6 143.3h7.3v7.3h-7.3zM1100.5 223.8h7.3v7.3h-7.3zM1032.8 190.8h7.3v7.3h-7.3zM993.2 171.3h7.3v7.3h-7.3zM965.0 156.7h7.3v7.3h-7.3zM943.2 147.3h7.3v7.3h-7.3zM925.4 146.8h7.3v7.3h-7.3zM910.3 166.2h7.3v7.3h-7.3zM897.3 169.2h7.3v7.3h-7.3zM885.8 164.2h7.3v7.3h-7.3zM875.5 162.5h7.3v7.3h-7.3zM866.1 162.8h7.3v7.3h-7.3zM857.6 161.8h7.3v7.3h-7.3zM849.8 160.8h7.3v7.3h-7.3zM842.6 175.9h7.3v7.3h-7.3zM835.8 172.3h7.3v7.3h-7.3zM829.5 169.8h7.3v7.3h-7.3zM823.6 166.7h7.3v7.3h-7.3zM818.0 163.3h7.3v7.3h-7.3zM812.7 161.8h7.3v7.3h-7.3zM807.7 154.7h7.3v7.3h-7.3zM802.9 153.9h7.3v7.3h-7.3zM798.4 153.8h7.3v7.3h-7.3zM794.0 153.9h7.3v7.3h-7.3zM789.9 153.2h7.3v7.3h-7.3zM785.9 153.2h7.3v7.3h-7.3zM782.0 152.8h7.3v7.3h-7.3zM778.4 152.5h7.3v7.3h-7.3zM774.8 151.8h7.3v7.3h-7.3zM771.4 151.0h7.3v7.3h-7.3zM768.1 150.8h7.3v7.3h-7.3z" stroke="#221f20" stroke-width="1.2" fill="none"/>
<path d="M105.5 408.5L105.5 208.0C105.7 207.7 105.8 206.8 106.5 206.2C107.2 205.6 108.4 205.2 110.0 204.6C111.6 204.0 113.7 203.2 116.3 202.5C118.9 201.8 122.9 200.9 125.6 200.3C128.3 199.8 128.7 199.8 132.6 199.2C136.5 198.6 144.3 197.5 148.9 196.8C153.5 196.1 151.1 196.2 160.0 195.2C168.9 194.2 185.7 192.0 202.4 190.6C219.1 189.2 235.4 188.3 260.0 186.5C284.6 184.7 330.0 181.3 350.0 179.8C370.0 178.3 346.7 179.0 380.0 177.5C413.3 176.0 493.3 172.8 550.0 170.6C606.7 168.4 661.7 166.4 720.0 164.3C778.3 162.2 836.7 160.3 900.0 158.3C963.3 156.3 1044.9 153.9 1100.0 152.3C1155.1 150.7 1209.0 149.5 1230.8 148.9" stroke="#221f20" stroke-width="4.3" fill="none" stroke-linejoin="round"/>
<rect x="107.3" y="490.1" width="1125.4" height="394.7" fill="none" stroke="#444" stroke-width="1.3"/>
<path d="M175.1 884.8v-6M175.1 490.1v6M214.7 884.8v-6M214.7 490.1v6M242.8 884.8v-6M242.8 490.1v6M264.6 884.8v-6M264.6 490.1v6M282.5 884.8v-6M282.5 490.1v6M297.5 884.8v-6M297.5 490.1v6M310.6 884.8v-6M310.6 490.1v6M322.1 884.8v-6M322.1 490.1v6M332.4 884.8v-11.5M332.4 490.1v11.5M400.2 884.8v-6M400.2 490.1v6M439.8 884.8v-6M439.8 490.1v6M467.9 884.8v-6M467.9 490.1v6M489.7 884.8v-6M489.7 490.1v6M507.6 884.8v-6M507.6 490.1v6M522.6 884.8v-6M522.6 490.1v6M535.7 884.8v-6M535.7 490.1v6M547.2 884.8v-6M547.2 490.1v6M557.5 884.8v-11.5M557.5 490.1v11.5M625.3 884.8v-6M625.3 490.1v6M664.9 884.8v-6M664.9 490.1v6M693.0 884.8v-6M693.0 490.1v6M714.8 884.8v-6M714.8 490.1v6M732.7 884.8v-6M732.7 490.1v6M747.7 884.8v-6M747.7 490.1v6M760.8 884.8v-6M760.8 490.1v6M772.3 884.8v-6M772.3 490.1v6M782.6 884.8v-11.5M782.6 490.1v11.5M850.4 884.8v-6M850.4 490.1v6M890.0 884.8v-6M890.0 490.1v6M918.1 884.8v-6M918.1 490.1v6M939.9 884.8v-6M939.9 490.1v6M957.8 884.8v-6M957.8 490.1v6M972.8 884.8v-6M972.8 490.1v6M985.9 884.8v-6M985.9 490.1v6M997.4 884.8v-6M997.4 490.1v6M1007.7 884.8v-11.5M1007.7 490.1v11.5M1075.5 884.8v-6M1075.5 490.1v6M1115.1 884.8v-6M1115.1 490.1v6M1143.2 884.8v-6M1143.2 490.1v6M1165.0 884.8v-6M1165.0 490.1v6M1182.9 884.8v-6M1182.9 490.1v6M1197.9 884.8v-6M1197.9 490.1v6M1211.0 884.8v-6M1211.0 490.1v6M1222.5 884.8v-6M1222.5 490.1v6M107.3 819.0h11.5M1232.7 819.0h-11.5M107.3 753.2h11.5M1232.7 753.2h-11.5M107.3 687.5h11.5M1232.7 687.5h-11.5M107.3 621.7h11.5M1232.7 621.7h-11.5M107.3 555.9h11.5M1232.7 555.9h-11.5" stroke="#444" stroke-width="1.2" fill="none"/>
<text x="95.5" y="894.4" text-anchor="end" font-size="29.0" fill="#3c3c3c">0.8</text>
<text x="95.5" y="828.6" text-anchor="end" font-size="29.0" fill="#3c3c3c">0.85</text>
<text x="95.5" y="762.8" text-anchor="end" font-size="29.0" fill="#3c3c3c">0.9</text>
<text x="95.5" y="697.0" text-anchor="end" font-size="29.0" fill="#3c3c3c">0.95</text>
<text x="95.5" y="631.2" text-anchor="end" font-size="29.0" fill="#3c3c3c">1</text>
<text x="95.5" y="565.5" text-anchor="end" font-size="29.0" fill="#3c3c3c">1.05</text>
<text x="95.5" y="499.7" text-anchor="end" font-size="29.0" fill="#3c3c3c">1.1</text>
<text x="105.8" y="927.6" font-size="29.0" fill="#3c3c3c" text-anchor="middle">10<tspan font-size="23.2" dy="-12.8">0</tspan></text>
<text x="330.9" y="927.6" font-size="29.0" fill="#3c3c3c" text-anchor="middle">10<tspan font-size="23.2" dy="-12.8">1</tspan></text>
<text x="556.0" y="927.6" font-size="29.0" fill="#3c3c3c" text-anchor="middle">10<tspan font-size="23.2" dy="-12.8">2</tspan></text>
<text x="781.1" y="927.6" font-size="29.0" fill="#3c3c3c" text-anchor="middle">10<tspan font-size="23.2" dy="-12.8">3</tspan></text>
<text x="1006.2" y="927.6" font-size="29.0" fill="#3c3c3c" text-anchor="middle">10<tspan font-size="23.2" dy="-12.8">4</tspan></text>
<text x="1231.3" y="927.6" font-size="29.0" fill="#3c3c3c" text-anchor="middle">10<tspan font-size="23.2" dy="-12.8">5</tspan></text>
<path d="M107.3 621.6H1232.7" stroke="#555" stroke-width="1.5" stroke-dasharray="18.6 11.18" fill="none"/>
<path d="M107.3 753.6 L1232.7 749.3" stroke="#221f20" stroke-width="1.2" fill="none"/>
<path d="M107.8 700 L107.8 697.1 L107.9 695.2 L107.9 693.7 L107.9 690.3 L107.9 688.4 L108 685.9 L108 684.1 L108 682.5 L108 679.7 L108.1 677.9 L108.1 674.9 L108.1 673.9 L108.1 670.5 L108.2 668.4 L108.2 666.7 L108.2 665 L108.2 662.6 L108.3 660.8 L108.3 658.2 L108.3 655.4 L108.3 653.2 L108.4 651.5 L108.4 648.5 L108.4 647.2 L108.4 645.1 L108.5 642.6 L108.5 640 L108.6 637.2 L108.7 635.1 L108.8 632.7 L108.9 630.5 L109 628.4 L109.1 626.2 L109.2 623.4 L109.2 622 L109.3 619.6 L109.4 617.5 L109.5 614.2 L109.6 612.5 L109.7 610.3 L109.8 607.5 L110 605.4 L110.2 603.8 L110.4 601.3 L110.6 599.6 L110.8 596.7 L111 595.1 L111.2 592.9 L111.4 590.6 L111.6 588.6 L111.8 586.1 L112 583.5 L112.2 581.1 L113.5 584.9 L115.5 582.6 L117 586.7 L118 584 L118.5 582 L119 579.9 L119.5 576.4 L120 574.6 L120.5 572.1 L121.2 574 L122 575.5 L122.8 578.7 L123.5 580.4 L124.2 583.1 L125 584.9 L126 587.8 L127 589.9 L128 591.3 L128.8 593.4 L129.5 596.6 L130.2 598 L131 600.1 L132 601.7 L133 604.8 L134 607.2 L135 609.5 L136 610.8 L137 614.3 L138 615.7 L140 619.8 L141.5 622.3 L143 625.1 L144.5 627.5 L146 630 L148 631.3 L150 633.2 L151.5 629.4 L153 626.7 L155.5 627.3 L158 626.1 L162 628.3 L166 627.1 L167 622.9 L169.5 624.7 L172 624.1 L176 625.6 L180 625.5 L182.5 626.9 L185 628 L187.5 626.9 L190 626.9 L192.5 626.8 L195 625.9 L197 623.8 L200 625.8 L202.5 626.2 L205 627.9 L207.5 629.2 L210 629.3 L212.5 630.1 L215 630.7 L218 634.3 L220 635.2 L222 635.2 L226 637.9 L228 639.3 L230 640.8 L232.5 641.3 L235 641.8 L237.5 643.4 L240 645.9 L242 647.3 L244 647.8 L246 650.2 L248 651.6 L250 653 L252 653.6 L254.4 654.3 L256.8 654.8 L259.2 656.4 L261.6 657.1 L264 657.2 L266.4 657.3 L268.8 658.1 L271.2 659.3 L273.6 659.7 L276 661.2 L278.4 661.4 L280.8 661.8 L283.2 662.5 L285.6 663.3 L288 664.5 L290.4 664.3 L292.8 665 L295.2 665 L297.6 665 L300 665.3 L302.4 665.8 L304.8 666 L307.2 666 L309.6 667.4 L312 667.2 L314.2 667.4 L316.5 668.7 L318.8 668.5 L321 668.8 L323.2 669.6 L325.5 670.6 L327.8 670.5 L330 671 L332.2 672.5 L334.4 672.5 L336.7 673.3 L338.9 674.1 L341.1 673.6 L343.3 674.5 L345.6 674.4 L347.8 676.2 L350 676.5 L352.7 676.9 L355.3 676.9 L358 678.8 L360 678.5 L362 680.3 L364.7 681.8 L367.3 681.4 L370 682.8 L372.5 683.5 L375 683.3 L377.5 683 L380 684.3 L382.5 684 L385 685.5 L387.5 684.6 L390 686.3 L392.5 686.8 L395 686.5 L397.5 686.9 L400 685.6 L402.5 686.4 L405 686.8 L407.5 687.2 L410 689.3 L412.5 690.3 L415 690.5 L417.5 690.8 L420 691.8 L423 694.6 L425.5 694.4 L428 693.5 L430.5 693 L433 694.2 L437 695 L440 696.6 L442.5 696.9 L445 697.9 L447.5 697.6 L450 698.7 L452.5 697.1 L455 696.4 L457.5 697.5 L460 699.7 L462.5 699.9 L465 700.6 L467 699.5 L469 697.6 L472 698.8 L475 699.7 L477.5 699.7 L480 700.2 L482.5 700.8 L485 701.3 L487.5 703.2 L490 704 L492 704.8 L494 703.6 L497 704.4 L500 706.1 L503 708 L505.5 707.5 L508 706.8 L510 708.6 L512 710.2 L515 711.6 L517.5 709.4 L520 709.6 L522.5 709 L525 710.4 L527.5 710.3 L530 710 L532.3 710 L534.7 709.8 L537 711.2 L540 713.7 L542 711.6 L544 709.4 L547 707.7 L550 708.8 L552.5 707 L555 708.1 L557.5 708 L560 708.4 L562.5 707.7 L565 707.4 L567.5 707.7 L570 708.4 L572.5 706.5 L575 707.1 L577.5 708.1 L580 708.8 L582.5 707.3 L585 707.8 L587.5 708.9 L590 709.3 L592.5 710 L595 711.1 L597.5 710.7 L600 709.5 L602.5 710.4 L605 709.6 L607.5 711.1 L610 711.4 L613 714 L615 715.6 L617 716.8 L619.5 717.4 L622 719.2 L625 722.2 L627.5 721.8 L630 721.3 L632.5 722.2 L635 722.3 L637.5 723.5 L640 724.3 L642.5 722.7 L645 722.1 L647.3 723.6 L649.7 725.4 L652 725.9 L655 727 L658 724.1 L660 720.2 L662.2 721.2 L664.4 720.5 L666.7 720.7 L668.9 721.3 L671.1 720.6 L673.3 720.2 L675.6 721.2 L677.8 720.9 L680 721.1 L682.4 720.4 L684.9 720.5 L687.3 719.8 L689.7 719.9 L692.1 718.7 L694.6 718 L697 718.1 L699.7 717.9 L702.3 717.7 L705 716.1 L707.5 716.4 L710 717.6 L712.5 718.8 L715 719.2 L717 718.4 L719 717 L721 715.7 L723 715.2 L725 714.4 L727.3 715.5 L729.7 715.9 L732 717.7 L734 716.9 L736 715.7 L738 714.4 L740 714.3 L742.5 713.8 L745 715.2 L747.5 715 L750 716.1 L752.5 718.1 L755 719 L757.5 718.1 L760 717.6 L762.5 718.9 L765 718.8 L767.5 717.8 L770 717.3 L772 716.4 L774 716.6 L776 714.3 L778 713.8 L780 712.5 L782.4 713.9 L784.8 714.9 L787.2 716 L789.6 717 L792 718 L810 726 L818 733.2 L825 734 L826 728.4 L842 738.8 L850 739.1 L860 742.8 L872 725.2 L886 732.3 L903 687.8 L923 692.5 L952 709.3 L998.4 682.4" stroke="#221f20" stroke-width="1.2" fill="none"/>
<path d="M109 720 L109.2 717.3 L109.3 715.5 L109.5 713.2 L109.7 711.7 L109.8 708.4 L110 706.4 L110.2 704.1 L110.3 702.5 L110.5 699.6 L110.7 698.3 L110.8 694.8 L111 693.4 L111.2 691.6 L111.3 689.3 L111.5 686.2 L111.7 683.7 L111.8 682.7 L112 680.7 L112.2 678 L112.4 675.1 L112.7 673.5 L112.9 671.1 L113.1 668.4 L113.3 666.4 L113.5 663.8 L113.8 661.8 L114 659.7 L114.2 656.4 L114.4 655.5 L114.6 653.3 L114.9 650.5 L115.1 648.4 L115.3 644.8 L115.8 642.9 L116.3 641.7 L116.8 639.3 L117.3 636.7 L117.8 633.9 L118.3 632.2 L118.8 630 L119.3 627.5 L119.8 624.8 L120.3 623.2 L120.8 620.5 L121.4 617.9 L122 616.5 L122.6 614.4 L123.2 615.4 L123.8 617.6 L124.5 620.4 L125.1 622.1 L125.7 625.3 L126.9 627.2 L128.1 629.1 L129.4 632.2 L130.6 633.9 L131.8 635.3 L133.4 637.7 L135.1 640.7 L136.7 642.8 L137.8 645.9 L138.9 646.8 L140 649.3 L141.7 651.3 L143.3 654.2 L145 656.5 L148 659.6 L152 659.1 L155 658.2 L156 654.8 L157 653.4 L159.5 653.7 L162 653.1 L164 650.6 L166 650.7 L168 648.3 L170 647.3 L172.5 647.4 L175 647.9 L177.5 648.2 L180 648.1 L182.5 648.6 L185 649.2 L187.5 648.9 L190 649.8 L192 647.6 L194 647.3 L196 645.7 L198.7 646.4 L201.3 645.9 L204 647.5 L206 649 L208 649.2 L210 650.9 L212 651.1 L214 651.7 L216 653.7 L218 654.7 L220 654.5 L222.7 656.9 L225.3 657.5 L228 659.4 L230.4 659.3 L232.8 659.8 L235.2 661.6 L237.6 661.8 L240 662.9 L242 662.6 L244 664.7 L246 665.8 L248 666.2 L250 666.9 L252 667.9 L254 670 L256 670.8 L258 672 L260 672 L262 673.7 L264 674.3 L266.4 675.1 L268.8 675.9 L271.2 675.8 L273.6 677.9 L276 677.8 L278.4 678.8 L280.8 678.7 L283.2 679.4 L285.6 681.6 L288 681.1 L290.4 682.7 L292.8 682.9 L295.2 684.1 L297.6 684.7 L300 685.9 L302.4 685.6 L304.8 684.9 L307.2 685.3 L309.6 686.6 L312 686.3 L314.2 687 L316.5 687.9 L318.8 687.8 L321 688.7 L323.2 688.9 L325.5 689 L327.8 689.1 L330 690.5 L332.2 690.6 L334.4 690.5 L336.7 691.3 L338.9 693.1 L341.1 692.4 L343.3 693.7 L345.6 693.7 L347.8 695 L350 695.9 L352.5 695.3 L355 697.1 L357.5 696.7 L360 698 L362.5 698.4 L365 700.1 L367.5 700.4 L370 701.1 L372.5 702.4 L375 704 L377.5 703.7 L380 703.9 L382.5 704.1 L385 704.3 L387.5 705.6 L390 706 L392.2 707 L394.4 706.7 L396.7 707 L398.9 708.6 L401.1 708.7 L403.3 708 L405.6 708.8 L407.8 708.9 L410 710.4 L412.5 710 L415 710.6 L417.5 711.4 L420 712.1 L422.5 712.8 L425 713 L427.5 714.2 L430 714.2 L432.5 716.5 L435 717.5 L437.5 718 L440 717.3 L442.7 717.5 L445.3 718 L448 718.4 L450.7 720.3 L453.3 721.3 L456 721.7 L458.7 722.4 L461.3 722.9 L464 722.5 L466 723.3 L468 724.9 L470.7 725.2 L473.3 725.1 L476 725.4 L478.3 725.9 L480.7 725.2 L483 725.5 L485 723.3 L488 726.8 L490.7 727.4 L493.3 727.8 L496 728.3 L498.7 729.1 L501.3 731.2 L504 731.9 L508 733.9 L512 731.7 L516 732.2 L518 734.2 L520 734.5 L524 736 L528 738.1 L532 739.1 L534.7 739.3 L537.3 740.1 L540 740 L542.5 739.9 L545 739.4 L547.5 740.7 L550 740.2 L552.5 741.6 L555 741.7 L557.5 741.9 L560 742.7 L562.5 741.6 L565 741.7 L567.5 742.2 L570 741.3 L572.5 741.1 L575 740.4 L577.5 740.8 L580 739.9 L582.5 741.4 L585 740.6 L587.5 741.4 L590 742 L592.5 742.3 L595 742.8 L597.5 742.9 L600 742.6 L603 742.5 L607 744.3 L610 743.5 L612.5 746.1 L615 747.1 L619 747.6 L623 745.5 L625.5 746.4 L628 746.7 L630.5 748.3 L633 749.9 L635 751.8 L637 753.2 L641 754.2 L643 755.5 L645 757.8 L647 759.2 L651 759 L653.5 759.9 L656 759 L660 760.1 L662 761.1 L664 762.5 L666 762.9 L670 762.1 L674 763 L676 763.9 L678 764.6 L680 766.1 L682 766.3 L684 768.2 L688 767.2 L692 768.6 L694.5 770.6 L697 771.6 L700 773.2 L702 773.1 L703.3 770.4 L704.7 768 L706 766.4 L709 767.1 L712 766.9 L714.5 768.8 L717 768.9 L720 768.7 L722.5 770.1 L725 771.7 L728 770.8 L731 771.1 L734 771.5 L736 772.3 L738 773.6 L740 772.7 L742 771.4 L744.5 774 L747 775.7 L751 774.9 L753.5 772.9 L756 771.8 L758.2 771.3 L760.5 772.7 L762.8 773 L765 771.7 L767 773.1 L769 775.6 L771 775.7 L773.3 776.5 L775.7 778.1 L778 778.4 L780.3 779.3 L782.7 779.9 L785 780.4 L792 778 L800 776.8 L806 781.2 L814 779.3 L830 783.6 L840 786.8 L843 790 L855 793.2 L868 794.5 L878 792.4 L890 798 L893 800.4 L903 807 L915 812.2 L934 824.7 L947 829.9 L962 828.9 L980 838.2 L999 849.7 L1022 858 L1053 871.1 L1075 871.1 L1097 870.9 L1125 884.8" stroke="#221f20" stroke-width="1.2" fill="none"/>
<path d="M104.1 880.2h7.3v7.3h-7.3zM104.0 880.2h7.3v7.3h-7.3zM103.9 879.0h7.3v7.3h-7.3zM104.1 877.3h7.3v7.3h-7.3zM104.1 876.8h7.3v7.3h-7.3zM103.9 874.7h7.3v7.3h-7.3zM103.7 872.5h7.3v7.3h-7.3zM104.0 868.9h7.3v7.3h-7.3zM103.9 867.2h7.3v7.3h-7.3zM104.3 865.5h7.3v7.3h-7.3zM104.0 864.9h7.3v7.3h-7.3zM103.9 861.9h7.3v7.3h-7.3zM104.1 861.6h7.3v7.3h-7.3zM104.3 859.5h7.3v7.3h-7.3zM104.1 857.2h7.3v7.3h-7.3zM104.2 857.4h7.3v7.3h-7.3zM103.8 855.4h7.3v7.3h-7.3zM103.9 855.0h7.3v7.3h-7.3zM104.2 853.6h7.3v7.3h-7.3zM103.8 850.9h7.3v7.3h-7.3zM104.0 849.7h7.3v7.3h-7.3zM104.1 846.5h7.3v7.3h-7.3zM104.3 843.8h7.3v7.3h-7.3zM104.1 842.0h7.3v7.3h-7.3zM103.9 840.0h7.3v7.3h-7.3zM103.8 839.2h7.3v7.3h-7.3zM104.1 838.6h7.3v7.3h-7.3zM104.1 835.3h7.3v7.3h-7.3zM103.8 834.4h7.3v7.3h-7.3zM104.1 833.1h7.3v7.3h-7.3zM104.3 831.0h7.3v7.3h-7.3zM104.1 829.8h7.3v7.3h-7.3zM103.9 829.3h7.3v7.3h-7.3zM103.8 827.1h7.3v7.3h-7.3zM104.3 826.0h7.3v7.3h-7.3zM104.1 822.4h7.3v7.3h-7.3zM104.1 820.3h7.3v7.3h-7.3zM104.1 820.1h7.3v7.3h-7.3zM103.8 819.1h7.3v7.3h-7.3zM103.8 817.1h7.3v7.3h-7.3zM103.9 815.3h7.3v7.3h-7.3zM104.0 813.9h7.3v7.3h-7.3zM104.0 813.8h7.3v7.3h-7.3zM104.2 812.6h7.3v7.3h-7.3zM103.9 811.3h7.3v7.3h-7.3zM104.2 809.7h7.3v7.3h-7.3zM104.0 808.3h7.3v7.3h-7.3zM103.9 808.4h7.3v7.3h-7.3zM103.8 805.3h7.3v7.3h-7.3zM103.9 805.7h7.3v7.3h-7.3zM104.0 802.2h7.3v7.3h-7.3zM104.4 803.1h7.3v7.3h-7.3zM104.0 799.3h7.3v7.3h-7.3zM103.9 797.9h7.3v7.3h-7.3zM104.0 797.7h7.3v7.3h-7.3zM104.2 796.4h7.3v7.3h-7.3zM104.0 792.3h7.3v7.3h-7.3zM104.0 789.9h7.3v7.3h-7.3zM104.0 789.5h7.3v7.3h-7.3zM104.0 786.7h7.3v7.3h-7.3zM104.0 785.8h7.3v7.3h-7.3zM104.4 785.6h7.3v7.3h-7.3zM104.1 783.7h7.3v7.3h-7.3zM104.5 782.0h7.3v7.3h-7.3zM104.6 780.6h7.3v7.3h-7.3zM104.1 777.8h7.3v7.3h-7.3zM104.1 776.9h7.3v7.3h-7.3zM104.3 774.4h7.3v7.3h-7.3zM104.1 772.8h7.3v7.3h-7.3zM104.4 771.6h7.3v7.3h-7.3zM104.2 770.7h7.3v7.3h-7.3zM104.7 768.9h7.3v7.3h-7.3zM104.3 767.6h7.3v7.3h-7.3zM104.3 765.9h7.3v7.3h-7.3zM104.7 764.4h7.3v7.3h-7.3zM104.3 762.9h7.3v7.3h-7.3zM104.6 758.9h7.3v7.3h-7.3zM104.5 758.9h7.3v7.3h-7.3zM104.7 758.1h7.3v7.3h-7.3zM104.5 755.2h7.3v7.3h-7.3zM104.6 752.8h7.3v7.3h-7.3zM104.8 751.8h7.3v7.3h-7.3zM104.4 750.6h7.3v7.3h-7.3zM104.5 749.8h7.3v7.3h-7.3zM104.8 746.6h7.3v7.3h-7.3zM104.7 744.7h7.3v7.3h-7.3zM105.0 742.6h7.3v7.3h-7.3zM104.6 743.1h7.3v7.3h-7.3zM104.9 740.8h7.3v7.3h-7.3zM104.9 738.5h7.3v7.3h-7.3zM105.0 737.2h7.3v7.3h-7.3zM105.0 736.5h7.3v7.3h-7.3zM104.7 733.6h7.3v7.3h-7.3zM104.7 734.6h7.3v7.3h-7.3zM105.0 733.0h7.3v7.3h-7.3zM104.7 730.9h7.3v7.3h-7.3zM104.8 730.8h7.3v7.3h-7.3zM104.7 729.4h7.3v7.3h-7.3zM105.1 728.5h7.3v7.3h-7.3zM105.0 725.7h7.3v7.3h-7.3zM105.2 725.3h7.3v7.3h-7.3zM105.1 721.9h7.3v7.3h-7.3zM104.7 721.5h7.3v7.3h-7.3zM105.2 720.6h7.3v7.3h-7.3zM105.2 718.5h7.3v7.3h-7.3zM104.7 717.7h7.3v7.3h-7.3zM106.4 716.3h7.3v7.3h-7.3zM104.7 715.0h7.3v7.3h-7.3zM106.2 711.3h7.3v7.3h-7.3zM104.9 711.3h7.3v7.3h-7.3zM107.0 708.8h7.3v7.3h-7.3zM105.9 706.8h7.3v7.3h-7.3zM105.4 706.2h7.3v7.3h-7.3zM102.9 706.3h7.3v7.3h-7.3zM104.3 704.6h7.3v7.3h-7.3zM103.3 701.1h7.3v7.3h-7.3zM107.0 699.5h7.3v7.3h-7.3zM103.9 697.8h7.3v7.3h-7.3zM107.2 696.6h7.3v7.3h-7.3zM104.5 694.7h7.3v7.3h-7.3zM106.6 693.9h7.3v7.3h-7.3zM106.4 692.0h7.3v7.3h-7.3zM103.7 691.8h7.3v7.3h-7.3zM106.3 688.7h7.3v7.3h-7.3zM105.3 684.3h7.3v7.3h-7.3zM106.0 685.2h7.3v7.3h-7.3zM106.9 683.2h7.3v7.3h-7.3zM107.6 681.0h7.3v7.3h-7.3zM106.5 678.7h7.3v7.3h-7.3zM105.1 678.4h7.3v7.3h-7.3zM103.5 676.3h7.3v7.3h-7.3zM104.6 674.8h7.3v7.3h-7.3zM107.2 675.4h7.3v7.3h-7.3zM106.9 673.1h7.3v7.3h-7.3zM106.5 672.5h7.3v7.3h-7.3zM103.8 668.5h7.3v7.3h-7.3zM105.8 667.1h7.3v7.3h-7.3zM104.6 667.1h7.3v7.3h-7.3zM105.0 664.7h7.3v7.3h-7.3zM106.3 662.2h7.3v7.3h-7.3zM104.8 661.4h7.3v7.3h-7.3zM108.1 659.2h7.3v7.3h-7.3zM104.9 657.8h7.3v7.3h-7.3zM108.4 656.4h7.3v7.3h-7.3zM106.9 654.2h7.3v7.3h-7.3zM107.3 652.1h7.3v7.3h-7.3zM108.6 650.7h7.3v7.3h-7.3zM105.4 649.6h7.3v7.3h-7.3zM105.2 648.2h7.3v7.3h-7.3zM109.6 646.7h7.3v7.3h-7.3zM105.6 645.5h7.3v7.3h-7.3zM108.0 645.8h7.3v7.3h-7.3zM107.0 642.9h7.3v7.3h-7.3zM108.7 643.0h7.3v7.3h-7.3zM107.6 640.3h7.3v7.3h-7.3zM110.1 637.2h7.3v7.3h-7.3zM108.7 635.4h7.3v7.3h-7.3zM108.8 634.6h7.3v7.3h-7.3zM109.2 632.4h7.3v7.3h-7.3zM109.8 631.7h7.3v7.3h-7.3zM107.6 631.2h7.3v7.3h-7.3zM109.4 627.9h7.3v7.3h-7.3zM110.3 629.4h7.3v7.3h-7.3zM110.7 627.2h7.3v7.3h-7.3zM111.7 628.9h7.3v7.3h-7.3zM108.1 628.3h7.3v7.3h-7.3zM108.8 625.4h7.3v7.3h-7.3zM109.8 622.4h7.3v7.3h-7.3zM111.4 626.6h7.3v7.3h-7.3zM108.6 623.1h7.3v7.3h-7.3zM108.3 624.6h7.3v7.3h-7.3zM110.5 621.9h7.3v7.3h-7.3zM108.8 624.0h7.3v7.3h-7.3zM111.6 622.4h7.3v7.3h-7.3zM111.4 619.4h7.3v7.3h-7.3zM111.8 623.7h7.3v7.3h-7.3zM112.4 623.9h7.3v7.3h-7.3zM109.7 620.4h7.3v7.3h-7.3zM109.6 618.4h7.3v7.3h-7.3zM112.1 621.9h7.3v7.3h-7.3zM109.3 616.8h7.3v7.3h-7.3zM110.0 620.7h7.3v7.3h-7.3zM111.8 615.3h7.3v7.3h-7.3zM111.8 614.0h7.3v7.3h-7.3zM112.7 616.4h7.3v7.3h-7.3zM111.0 615.9h7.3v7.3h-7.3zM110.0 615.2h7.3v7.3h-7.3zM110.0 612.1h7.3v7.3h-7.3zM112.9 612.9h7.3v7.3h-7.3zM110.9 612.2h7.3v7.3h-7.3zM111.8 612.2h7.3v7.3h-7.3zM113.6 610.6h7.3v7.3h-7.3zM111.5 611.5h7.3v7.3h-7.3zM110.6 611.1h7.3v7.3h-7.3zM113.1 610.4h7.3v7.3h-7.3zM111.9 608.2h7.3v7.3h-7.3zM113.7 608.2h7.3v7.3h-7.3zM111.2 607.3h7.3v7.3h-7.3zM113.1 605.6h7.3v7.3h-7.3zM113.8 609.8h7.3v7.3h-7.3zM113.7 608.0h7.3v7.3h-7.3zM113.1 609.7h7.3v7.3h-7.3zM115.4 605.1h7.3v7.3h-7.3zM111.7 605.3h7.3v7.3h-7.3zM112.6 606.3h7.3v7.3h-7.3zM112.6 604.4h7.3v7.3h-7.3zM112.7 602.7h7.3v7.3h-7.3zM112.9 606.1h7.3v7.3h-7.3zM112.5 603.0h7.3v7.3h-7.3zM114.8 602.2h7.3v7.3h-7.3zM116.3 601.8h7.3v7.3h-7.3zM114.9 601.3h7.3v7.3h-7.3zM115.0 598.8h7.3v7.3h-7.3zM115.3 598.6h7.3v7.3h-7.3zM117.0 595.4h7.3v7.3h-7.3zM116.2 594.3h7.3v7.3h-7.3zM116.5 598.4h7.3v7.3h-7.3zM117.0 597.6h7.3v7.3h-7.3zM117.1 595.6h7.3v7.3h-7.3zM117.4 593.8h7.3v7.3h-7.3zM117.5 590.4h7.3v7.3h-7.3zM118.0 590.1h7.3v7.3h-7.3zM118.5 592.6h7.3v7.3h-7.3zM118.8 597.6h7.3v7.3h-7.3zM119.4 595.3h7.3v7.3h-7.3zM120.0 594.8h7.3v7.3h-7.3zM120.2 593.4h7.3v7.3h-7.3zM120.8 600.4h7.3v7.3h-7.3zM120.7 595.0h7.3v7.3h-7.3zM119.8 596.8h7.3v7.3h-7.3zM119.3 594.7h7.3v7.3h-7.3zM121.2 601.3h7.3v7.3h-7.3zM121.4 601.9h7.3v7.3h-7.3zM122.0 595.7h7.3v7.3h-7.3zM122.2 599.8h7.3v7.3h-7.3zM122.0 600.0h7.3v7.3h-7.3zM122.8 603.7h7.3v7.3h-7.3zM122.7 602.7h7.3v7.3h-7.3zM122.8 603.8h7.3v7.3h-7.3zM123.1 597.9h7.3v7.3h-7.3zM123.3 597.7h7.3v7.3h-7.3zM123.9 607.8h7.3v7.3h-7.3zM123.9 599.7h7.3v7.3h-7.3zM124.3 599.2h7.3v7.3h-7.3zM124.2 601.8h7.3v7.3h-7.3zM124.8 603.9h7.3v7.3h-7.3zM124.9 608.5h7.3v7.3h-7.3zM124.8 610.6h7.3v7.3h-7.3zM125.1 604.6h7.3v7.3h-7.3zM125.2 610.3h7.3v7.3h-7.3zM125.8 604.2h7.3v7.3h-7.3zM125.4 605.9h7.3v7.3h-7.3zM125.7 612.1h7.3v7.3h-7.3zM125.9 605.4h7.3v7.3h-7.3zM126.1 605.1h7.3v7.3h-7.3zM126.3 607.1h7.3v7.3h-7.3zM126.6 607.1h7.3v7.3h-7.3zM127.0 607.2h7.3v7.3h-7.3zM127.2 614.4h7.3v7.3h-7.3zM127.1 611.1h7.3v7.3h-7.3zM127.1 618.2h7.3v7.3h-7.3zM127.7 607.8h7.3v7.3h-7.3zM127.9 618.4h7.3v7.3h-7.3zM127.9 611.7h7.3v7.3h-7.3zM128.1 620.0h7.3v7.3h-7.3zM128.4 613.1h7.3v7.3h-7.3zM128.6 619.1h7.3v7.3h-7.3zM129.1 617.4h7.3v7.3h-7.3zM129.1 619.0h7.3v7.3h-7.3zM129.3 615.8h7.3v7.3h-7.3zM129.6 616.9h7.3v7.3h-7.3zM130.1 614.6h7.3v7.3h-7.3zM130.2 616.2h7.3v7.3h-7.3zM130.9 616.1h7.3v7.3h-7.3zM130.8 622.3h7.3v7.3h-7.3zM131.5 623.3h7.3v7.3h-7.3zM131.4 623.4h7.3v7.3h-7.3zM131.7 619.3h7.3v7.3h-7.3zM131.9 626.6h7.3v7.3h-7.3zM132.1 620.5h7.3v7.3h-7.3zM132.5 626.6h7.3v7.3h-7.3zM132.7 627.3h7.3v7.3h-7.3zM133.0 624.8h7.3v7.3h-7.3zM133.1 628.4h7.3v7.3h-7.3zM133.5 630.6h7.3v7.3h-7.3zM133.7 622.8h7.3v7.3h-7.3zM133.9 631.4h7.3v7.3h-7.3zM134.4 625.9h7.3v7.3h-7.3zM134.7 630.6h7.3v7.3h-7.3zM134.7 629.8h7.3v7.3h-7.3zM135.5 628.5h7.3v7.3h-7.3zM135.5 624.7h7.3v7.3h-7.3zM135.9 630.7h7.3v7.3h-7.3zM136.2 632.8h7.3v7.3h-7.3zM136.7 635.2h7.3v7.3h-7.3zM136.9 635.2h7.3v7.3h-7.3zM137.6 626.3h7.3v7.3h-7.3zM137.9 637.6h7.3v7.3h-7.3zM138.5 631.8h7.3v7.3h-7.3zM138.8 630.4h7.3v7.3h-7.3zM139.2 631.0h7.3v7.3h-7.3zM139.6 630.2h7.3v7.3h-7.3zM139.9 634.7h7.3v7.3h-7.3zM140.4 633.0h7.3v7.3h-7.3zM140.8 636.8h7.3v7.3h-7.3zM141.0 638.7h7.3v7.3h-7.3zM141.8 638.4h7.3v7.3h-7.3zM142.3 633.4h7.3v7.3h-7.3zM142.8 636.3h7.3v7.3h-7.3zM143.2 636.3h7.3v7.3h-7.3zM143.8 640.8h7.3v7.3h-7.3zM143.7 637.3h7.3v7.3h-7.3zM144.8 638.9h7.3v7.3h-7.3zM145.9 639.1h7.3v7.3h-7.3zM147.0 639.9h7.3v7.3h-7.3zM148.6 639.0h7.3v7.3h-7.3zM150.7 641.1h7.3v7.3h-7.3zM152.3 639.8h7.3v7.3h-7.3zM153.9 639.1h7.3v7.3h-7.3zM155.2 637.5h7.3v7.3h-7.3zM156.5 637.1h7.3v7.3h-7.3zM157.8 638.0h7.3v7.3h-7.3zM160.2 637.1h7.3v7.3h-7.3zM161.6 635.5h7.3v7.3h-7.3zM163.8 636.2h7.3v7.3h-7.3zM165.3 635.6h7.3v7.3h-7.3zM167.1 634.2h7.3v7.3h-7.3zM169.0 634.5h7.3v7.3h-7.3zM170.6 634.6h7.3v7.3h-7.3zM172.2 635.3h7.3v7.3h-7.3zM173.9 635.9h7.3v7.3h-7.3zM176.1 635.6h7.3v7.3h-7.3zM177.9 635.1h7.3v7.3h-7.3zM179.2 635.7h7.3v7.3h-7.3zM181.3 633.8h7.3v7.3h-7.3zM182.5 635.2h7.3v7.3h-7.3zM184.2 634.5h7.3v7.3h-7.3zM185.9 633.9h7.3v7.3h-7.3zM188.2 633.9h7.3v7.3h-7.3zM190.7 632.6h7.3v7.3h-7.3zM192.2 632.9h7.3v7.3h-7.3zM194.3 633.9h7.3v7.3h-7.3zM196.1 632.7h7.3v7.3h-7.3zM197.9 632.6h7.3v7.3h-7.3zM199.4 635.4h7.3v7.3h-7.3zM201.6 634.9h7.3v7.3h-7.3zM202.9 635.4h7.3v7.3h-7.3zM203.9 636.5h7.3v7.3h-7.3zM205.6 639.7h7.3v7.3h-7.3zM207.3 639.6h7.3v7.3h-7.3zM208.6 640.9h7.3v7.3h-7.3zM210.5 640.8h7.3v7.3h-7.3zM211.6 640.9h7.3v7.3h-7.3zM212.7 641.8h7.3v7.3h-7.3zM214.4 642.0h7.3v7.3h-7.3zM215.3 642.3h7.3v7.3h-7.3zM216.9 642.4h7.3v7.3h-7.3zM219.1 643.2h7.3v7.3h-7.3zM220.8 644.5h7.3v7.3h-7.3zM222.5 647.3h7.3v7.3h-7.3zM223.8 647.3h7.3v7.3h-7.3zM226.1 648.0h7.3v7.3h-7.3zM227.0 648.4h7.3v7.3h-7.3zM229.5 648.5h7.3v7.3h-7.3zM231.2 650.1h7.3v7.3h-7.3zM232.7 649.7h7.3v7.3h-7.3zM234.6 652.3h7.3v7.3h-7.3zM236.2 650.9h7.3v7.3h-7.3zM238.0 650.5h7.3v7.3h-7.3zM239.0 652.2h7.3v7.3h-7.3zM240.8 652.6h7.3v7.3h-7.3zM241.9 652.0h7.3v7.3h-7.3zM243.7 653.1h7.3v7.3h-7.3zM245.8 653.8h7.3v7.3h-7.3zM247.5 656.1h7.3v7.3h-7.3zM249.4 657.7h7.3v7.3h-7.3zM250.7 658.3h7.3v7.3h-7.3zM252.8 658.0h7.3v7.3h-7.3zM254.5 660.4h7.3v7.3h-7.3zM256.1 659.1h7.3v7.3h-7.3zM257.4 659.9h7.3v7.3h-7.3zM259.1 661.1h7.3v7.3h-7.3zM261.0 661.7h7.3v7.3h-7.3zM263.0 661.8h7.3v7.3h-7.3zM265.0 663.8h7.3v7.3h-7.3zM266.4 662.5h7.3v7.3h-7.3zM268.2 664.2h7.3v7.3h-7.3zM269.7 664.1h7.3v7.3h-7.3zM271.4 666.0h7.3v7.3h-7.3zM273.2 666.0h7.3v7.3h-7.3zM274.4 666.2h7.3v7.3h-7.3zM275.4 668.6h7.3v7.3h-7.3zM277.7 668.4h7.3v7.3h-7.3zM279.2 667.9h7.3v7.3h-7.3zM281.2 667.9h7.3v7.3h-7.3zM283.1 668.9h7.3v7.3h-7.3zM285.6 668.9h7.3v7.3h-7.3zM287.8 670.1h7.3v7.3h-7.3zM290.3 671.5h7.3v7.3h-7.3zM292.1 669.9h7.3v7.3h-7.3zM294.2 671.9h7.3v7.3h-7.3zM296.1 671.1h7.3v7.3h-7.3zM297.3 672.4h7.3v7.3h-7.3zM299.4 672.4h7.3v7.3h-7.3zM302.3 671.5h7.3v7.3h-7.3zM304.3 673.3h7.3v7.3h-7.3zM306.0 672.1h7.3v7.3h-7.3zM307.8 673.0h7.3v7.3h-7.3zM309.6 673.0h7.3v7.3h-7.3zM311.9 672.3h7.3v7.3h-7.3zM313.0 673.7h7.3v7.3h-7.3zM315.6 672.2h7.3v7.3h-7.3zM317.1 672.4h7.3v7.3h-7.3zM318.6 674.5h7.3v7.3h-7.3zM320.3 676.5h7.3v7.3h-7.3zM321.5 676.2h7.3v7.3h-7.3zM323.8 678.0h7.3v7.3h-7.3zM325.0 676.8h7.3v7.3h-7.3zM326.2 676.7h7.3v7.3h-7.3zM327.9 677.2h7.3v7.3h-7.3zM329.5 679.4h7.3v7.3h-7.3zM331.6 679.3h7.3v7.3h-7.3zM333.6 680.8h7.3v7.3h-7.3zM334.9 680.5h7.3v7.3h-7.3zM337.0 680.3h7.3v7.3h-7.3zM339.5 681.4h7.3v7.3h-7.3zM341.0 682.7h7.3v7.3h-7.3zM343.5 682.1h7.3v7.3h-7.3zM344.5 683.9h7.3v7.3h-7.3zM346.8 682.9h7.3v7.3h-7.3zM348.1 684.2h7.3v7.3h-7.3zM349.4 684.2h7.3v7.3h-7.3zM351.6 683.7h7.3v7.3h-7.3zM353.8 683.6h7.3v7.3h-7.3zM356.0 685.4h7.3v7.3h-7.3zM358.1 685.5h7.3v7.3h-7.3zM360.0 686.1h7.3v7.3h-7.3zM361.8 686.3h7.3v7.3h-7.3zM363.1 687.3h7.3v7.3h-7.3zM365.4 688.1h7.3v7.3h-7.3zM367.5 689.4h7.3v7.3h-7.3zM369.3 690.6h7.3v7.3h-7.3zM371.5 691.5h7.3v7.3h-7.3zM372.9 690.9h7.3v7.3h-7.3zM374.8 692.3h7.3v7.3h-7.3zM376.9 693.5h7.3v7.3h-7.3zM378.4 692.7h7.3v7.3h-7.3zM380.5 692.4h7.3v7.3h-7.3zM382.4 692.3h7.3v7.3h-7.3zM384.7 693.4h7.3v7.3h-7.3zM386.7 693.6h7.3v7.3h-7.3zM388.5 694.8h7.3v7.3h-7.3zM390.4 694.0h7.3v7.3h-7.3zM392.7 694.0h7.3v7.3h-7.3zM394.5 696.3h7.3v7.3h-7.3zM396.2 695.3h7.3v7.3h-7.3zM397.8 695.4h7.3v7.3h-7.3zM400.0 697.5h7.3v7.3h-7.3zM401.8 697.6h7.3v7.3h-7.3zM403.6 697.3h7.3v7.3h-7.3zM405.2 697.1h7.3v7.3h-7.3zM406.7 697.9h7.3v7.3h-7.3zM408.7 698.3h7.3v7.3h-7.3zM410.6 698.4h7.3v7.3h-7.3zM412.7 700.1h7.3v7.3h-7.3zM414.4 699.3h7.3v7.3h-7.3zM415.8 698.3h7.3v7.3h-7.3zM417.6 698.4h7.3v7.3h-7.3zM420.1 700.9h7.3v7.3h-7.3zM421.9 701.4h7.3v7.3h-7.3zM423.5 700.7h7.3v7.3h-7.3zM425.2 700.4h7.3v7.3h-7.3zM427.3 700.8h7.3v7.3h-7.3zM428.5 701.3h7.3v7.3h-7.3zM430.9 700.9h7.3v7.3h-7.3zM432.9 703.0h7.3v7.3h-7.3zM435.0 701.8h7.3v7.3h-7.3zM436.6 703.6h7.3v7.3h-7.3zM438.1 703.4h7.3v7.3h-7.3zM440.6 704.1h7.3v7.3h-7.3zM442.5 702.4h7.3v7.3h-7.3zM444.6 703.7h7.3v7.3h-7.3zM446.5 703.3h7.3v7.3h-7.3zM448.0 702.8h7.3v7.3h-7.3zM449.9 704.3h7.3v7.3h-7.3zM451.9 705.0h7.3v7.3h-7.3zM453.2 704.0h7.3v7.3h-7.3zM454.7 702.4h7.3v7.3h-7.3zM457.1 702.8h7.3v7.3h-7.3zM459.4 704.9h7.3v7.3h-7.3zM460.9 704.8h7.3v7.3h-7.3zM463.1 706.2h7.3v7.3h-7.3zM464.8 705.2h7.3v7.3h-7.3zM465.9 707.1h7.3v7.3h-7.3zM467.6 705.4h7.3v7.3h-7.3zM469.4 706.8h7.3v7.3h-7.3zM471.6 707.6h7.3v7.3h-7.3zM473.6 709.7h7.3v7.3h-7.3zM475.5 711.1h7.3v7.3h-7.3zM476.9 711.3h7.3v7.3h-7.3zM479.2 712.3h7.3v7.3h-7.3zM480.7 710.8h7.3v7.3h-7.3zM482.8 710.8h7.3v7.3h-7.3zM484.7 711.7h7.3v7.3h-7.3zM486.8 713.0h7.3v7.3h-7.3zM487.9 711.3h7.3v7.3h-7.3zM490.2 713.1h7.3v7.3h-7.3zM491.9 713.0h7.3v7.3h-7.3zM494.2 715.0h7.3v7.3h-7.3zM495.1 714.9h7.3v7.3h-7.3zM496.7 713.4h7.3v7.3h-7.3zM498.4 714.4h7.3v7.3h-7.3zM500.6 713.9h7.3v7.3h-7.3zM502.0 715.9h7.3v7.3h-7.3zM504.2 716.6h7.3v7.3h-7.3zM505.8 715.9h7.3v7.3h-7.3zM507.3 717.9h7.3v7.3h-7.3zM509.6 718.4h7.3v7.3h-7.3zM512.1 717.3h7.3v7.3h-7.3zM513.6 719.7h7.3v7.3h-7.3zM515.5 719.4h7.3v7.3h-7.3zM517.3 721.2h7.3v7.3h-7.3zM519.3 720.0h7.3v7.3h-7.3zM520.8 720.3h7.3v7.3h-7.3zM523.4 721.4h7.3v7.3h-7.3zM525.0 720.8h7.3v7.3h-7.3zM526.7 720.9h7.3v7.3h-7.3zM528.2 721.4h7.3v7.3h-7.3zM530.4 721.1h7.3v7.3h-7.3zM532.5 720.1h7.3v7.3h-7.3zM533.7 721.7h7.3v7.3h-7.3zM535.2 719.1h7.3v7.3h-7.3zM537.3 719.5h7.3v7.3h-7.3zM539.1 719.0h7.3v7.3h-7.3zM540.1 720.6h7.3v7.3h-7.3zM542.6 720.6h7.3v7.3h-7.3zM545.0 720.0h7.3v7.3h-7.3zM546.2 721.2h7.3v7.3h-7.3zM548.4 720.1h7.3v7.3h-7.3zM550.3 720.7h7.3v7.3h-7.3zM552.7 721.6h7.3v7.3h-7.3zM554.7 721.7h7.3v7.3h-7.3zM557.2 720.7h7.3v7.3h-7.3zM559.9 721.3h7.3v7.3h-7.3zM562.1 720.5h7.3v7.3h-7.3zM563.6 720.1h7.3v7.3h-7.3zM565.5 722.9h7.3v7.3h-7.3zM567.0 721.8h7.3v7.3h-7.3zM568.9 723.1h7.3v7.3h-7.3zM570.4 722.3h7.3v7.3h-7.3zM573.0 721.6h7.3v7.3h-7.3zM575.3 721.8h7.3v7.3h-7.3zM577.0 723.1h7.3v7.3h-7.3zM579.5 723.6h7.3v7.3h-7.3zM581.0 722.4h7.3v7.3h-7.3zM582.4 723.9h7.3v7.3h-7.3zM583.9 723.4h7.3v7.3h-7.3zM585.6 722.8h7.3v7.3h-7.3zM586.9 722.8h7.3v7.3h-7.3zM589.3 722.2h7.3v7.3h-7.3zM591.2 724.7h7.3v7.3h-7.3zM592.9 725.2h7.3v7.3h-7.3zM594.4 725.1h7.3v7.3h-7.3zM596.7 724.4h7.3v7.3h-7.3zM598.9 725.6h7.3v7.3h-7.3zM600.5 724.9h7.3v7.3h-7.3zM603.1 724.1h7.3v7.3h-7.3zM604.3 726.2h7.3v7.3h-7.3zM606.2 726.4h7.3v7.3h-7.3zM607.7 727.5h7.3v7.3h-7.3zM609.3 727.4h7.3v7.3h-7.3zM611.1 728.4h7.3v7.3h-7.3zM612.6 729.1h7.3v7.3h-7.3zM614.5 730.5h7.3v7.3h-7.3zM616.2 731.6h7.3v7.3h-7.3zM618.0 731.0h7.3v7.3h-7.3zM619.6 731.9h7.3v7.3h-7.3zM621.4 733.6h7.3v7.3h-7.3zM623.5 734.3h7.3v7.3h-7.3zM625.0 733.5h7.3v7.3h-7.3zM626.3 734.1h7.3v7.3h-7.3zM628.2 734.8h7.3v7.3h-7.3zM630.9 734.4h7.3v7.3h-7.3zM632.7 734.4h7.3v7.3h-7.3zM634.7 734.0h7.3v7.3h-7.3zM636.9 734.9h7.3v7.3h-7.3zM638.9 735.7h7.3v7.3h-7.3zM640.3 734.6h7.3v7.3h-7.3zM641.5 734.9h7.3v7.3h-7.3zM643.4 735.4h7.3v7.3h-7.3zM644.9 735.3h7.3v7.3h-7.3zM646.9 736.9h7.3v7.3h-7.3zM648.8 735.3h7.3v7.3h-7.3zM650.8 737.6h7.3v7.3h-7.3zM653.3 736.6h7.3v7.3h-7.3zM654.5 738.2h7.3v7.3h-7.3zM656.0 738.5h7.3v7.3h-7.3zM657.5 738.0h7.3v7.3h-7.3zM659.7 739.7h7.3v7.3h-7.3zM661.8 739.5h7.3v7.3h-7.3zM664.5 739.2h7.3v7.3h-7.3zM665.9 740.7h7.3v7.3h-7.3zM668.2 742.0h7.3v7.3h-7.3zM669.7 742.5h7.3v7.3h-7.3zM670.8 743.5h7.3v7.3h-7.3zM672.8 743.1h7.3v7.3h-7.3zM674.0 742.1h7.3v7.3h-7.3zM675.5 742.1h7.3v7.3h-7.3zM677.0 738.8h7.3v7.3h-7.3zM678.7 738.0h7.3v7.3h-7.3zM680.7 737.0h7.3v7.3h-7.3zM682.5 738.5h7.3v7.3h-7.3zM683.9 738.9h7.3v7.3h-7.3zM766.6 738.3h7.3v7.3h-7.3zM763.5 738.0h7.3v7.3h-7.3zM760.5 737.8h7.3v7.3h-7.3zM757.6 738.1h7.3v7.3h-7.3zM754.8 738.6h7.3v7.3h-7.3zM752.0 738.3h7.3v7.3h-7.3zM749.3 738.8h7.3v7.3h-7.3zM746.7 740.2h7.3v7.3h-7.3zM744.2 739.7h7.3v7.3h-7.3zM741.7 740.5h7.3v7.3h-7.3zM739.3 739.7h7.3v7.3h-7.3zM737.0 739.0h7.3v7.3h-7.3zM734.7 739.6h7.3v7.3h-7.3zM732.4 738.2h7.3v7.3h-7.3zM730.2 737.5h7.3v7.3h-7.3zM728.1 737.7h7.3v7.3h-7.3zM726.0 738.1h7.3v7.3h-7.3zM723.9 738.9h7.3v7.3h-7.3zM721.9 740.8h7.3v7.3h-7.3zM719.9 740.1h7.3v7.3h-7.3zM718.0 741.3h7.3v7.3h-7.3zM716.1 740.5h7.3v7.3h-7.3zM714.2 740.9h7.3v7.3h-7.3zM712.4 740.4h7.3v7.3h-7.3zM710.6 739.8h7.3v7.3h-7.3zM708.8 739.7h7.3v7.3h-7.3zM707.1 739.3h7.3v7.3h-7.3zM705.4 740.5h7.3v7.3h-7.3zM703.7 739.8h7.3v7.3h-7.3zM702.1 739.9h7.3v7.3h-7.3zM700.5 740.1h7.3v7.3h-7.3zM698.9 740.0h7.3v7.3h-7.3zM697.3 738.8h7.3v7.3h-7.3zM695.8 738.8h7.3v7.3h-7.3zM694.3 738.4h7.3v7.3h-7.3zM692.8 738.3h7.3v7.3h-7.3zM691.3 739.1h7.3v7.3h-7.3zM689.9 738.3h7.3v7.3h-7.3zM688.4 739.1h7.3v7.3h-7.3zM687.0 739.0h7.3v7.3h-7.3zM1102.3 747.4h7.3v7.3h-7.3zM1034.6 763.9h7.3v7.3h-7.3zM995.0 742.5h7.3v7.3h-7.3zM966.8 734.0h7.3v7.3h-7.3zM945.0 774.5h7.3v7.3h-7.3zM927.2 765.1h7.3v7.3h-7.3zM912.1 780.5h7.3v7.3h-7.3zM899.1 775.6h7.3v7.3h-7.3zM887.6 774.1h7.3v7.3h-7.3zM877.2 766.6h7.3v7.3h-7.3zM867.9 761.2h7.3v7.3h-7.3zM859.4 766.6h7.3v7.3h-7.3zM851.6 764.0h7.3v7.3h-7.3zM844.4 758.9h7.3v7.3h-7.3zM837.6 754.9h7.3v7.3h-7.3zM831.3 752.0h7.3v7.3h-7.3zM825.4 746.9h7.3v7.3h-7.3zM819.8 743.6h7.3v7.3h-7.3zM814.5 740.5h7.3v7.3h-7.3zM809.5 745.6h7.3v7.3h-7.3zM804.7 745.9h7.3v7.3h-7.3zM800.2 746.9h7.3v7.3h-7.3zM795.8 747.1h7.3v7.3h-7.3zM791.7 745.9h7.3v7.3h-7.3zM787.7 745.1h7.3v7.3h-7.3zM783.8 744.8h7.3v7.3h-7.3zM780.2 741.9h7.3v7.3h-7.3zM776.6 740.2h7.3v7.3h-7.3zM773.2 739.1h7.3v7.3h-7.3zM769.9 738.4h7.3v7.3h-7.3zM103.6 529.1h7.3v7.3h-7.3zM103.6 587.8h7.3v7.3h-7.3zM103.6 593.9h7.3v7.3h-7.3z" stroke="#221f20" stroke-width="1.2" fill="none"/>
<path d="M143.3 490.1C143.7 492.3 144.9 498.6 145.7 503.3C146.5 508.0 147.2 513.4 148.0 518.5C148.8 523.6 149.4 528.7 150.3 533.8C151.2 538.9 152.2 544.0 153.3 549.1C154.4 554.2 155.7 559.2 157.1 564.3C158.5 569.4 160.0 574.5 161.7 579.6C163.4 584.7 165.2 589.8 167.1 594.9C169.0 600.0 170.9 605.0 173.2 610.1C175.5 615.2 178.5 621.3 180.8 625.4C183.1 629.5 185.2 632.1 186.9 634.6C188.6 637.1 189.4 638.3 191.2 640.5C193.0 642.7 195.5 645.6 197.6 648.0C199.7 650.4 201.6 652.5 204.0 654.6C206.4 656.7 209.3 658.9 212.0 660.8C214.7 662.7 217.3 664.2 220.0 665.8C222.7 667.4 224.7 668.5 228.0 670.5C231.3 672.5 236.0 675.3 240.0 677.5C244.0 679.7 248.0 681.8 252.0 683.5C256.0 685.2 260.0 686.6 264.0 688.0C268.0 689.4 272.0 690.8 276.0 691.8C280.0 692.8 284.0 693.2 288.0 694.0C292.0 694.8 296.0 695.6 300.0 696.3C304.0 697.0 307.0 697.5 312.0 698.2C317.0 698.9 323.7 699.6 330.0 700.4C336.3 701.2 343.3 702.1 350.0 702.8C356.7 703.5 361.7 703.8 370.0 704.6C378.3 705.4 386.7 706.2 400.0 707.4C413.3 708.6 433.3 710.9 450.0 712.0C466.7 713.1 485.0 713.3 500.0 713.8C515.0 714.3 530.0 714.8 540.0 715.2C550.0 715.6 543.3 715.9 560.0 716.3C576.7 716.7 606.7 717.2 640.0 717.8C673.3 718.4 708.3 719.3 760.0 720.0C811.7 720.7 896.7 721.5 950.0 722.0C1003.3 722.5 1032.9 722.5 1080.0 722.7C1127.1 722.9 1207.2 723.1 1232.7 723.2" stroke="#221f20" stroke-width="4.1" fill="none" stroke-linejoin="round"/>
<g fill="#221f20">
<text x="149.2" y="76.8" font-size="41.3">Doris</text>
<text x="1145" y="115.3" font-size="30.5">F</text>
<text x="1128.5" y="186.4" font-size="30.5" letter-spacing="-0.8">T~TF</text>
<text x="1192.5" y="238.2" font-size="30.5">R</text>
<text x="1189" y="593" font-size="29.5">R</text>
<text x="1123.5" y="707.8" font-size="29.5">T</text>
<text x="1124.5" y="781.8" font-size="29.5">B</text>
</g>
<text transform="translate(30.6 240.5) rotate(-90)" font-size="33" fill="#3c3c3c">h/h<tspan font-size="27" dy="15.6" dx="1.7">R</tspan></text>
<text transform="translate(21.7 724) rotate(-90)" font-size="31" fill="#3c3c3c">H/H<tspan font-size="25.5" dy="14.5" dx="1.5">R</tspan></text>
<text x="546" y="966.9" font-size="31.5" fill="#3c3c3c" letter-spacing="0.45">N<tspan font-size="26" dy="14">h</tspan><tspan dy="-14">(</tspan><tspan font-style="italic">ξ</tspan><tspan>)=1/P(h&gt;</tspan><tspan font-style="italic">ξ</tspan><tspan> H</tspan><tspan font-size="26" dy="14">s</tspan><tspan dy="-14">)</tspan></text>
</svg>
</body></html>
